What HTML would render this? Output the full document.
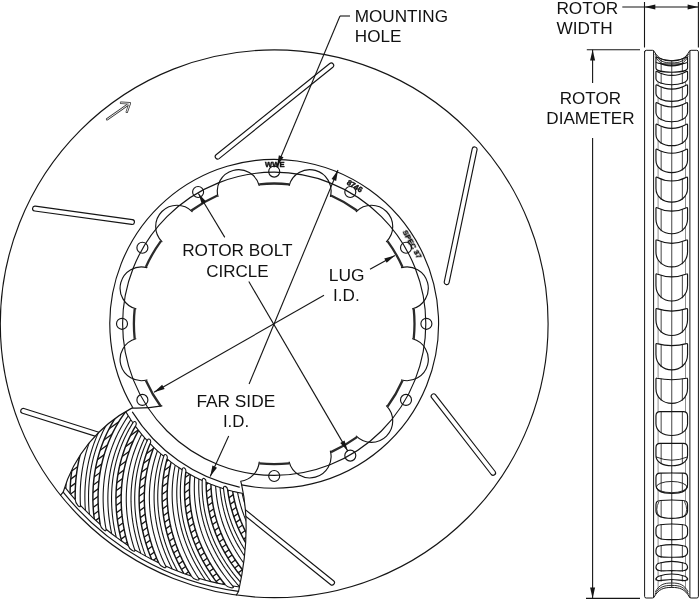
<!DOCTYPE html>
<html lang="en"><head><meta charset="utf-8"><title>Rotor Dimensions</title>
<style>html,body{margin:0;padding:0;background:#fff}svg{display:block;will-change:transform;filter:grayscale(1)}</style></head>
<body>
<svg width="700" height="599" viewBox="0 0 700 599">
<rect width="700" height="599" fill="#fff"/>
<defs>
<clipPath id="cut"><path d="M131.79,408.12 A165.5 165.5 0 0 0 241.51,484.92 Q252,531 238.53,591.43 A270 270 0 0 1 63.17,492.22 A139 139 0 0 1 131.79,408.12 Z"/></clipPath>
</defs>
<g fill="none" stroke="#151515" stroke-width="1.15" stroke-linecap="round" stroke-linejoin="round">
<circle cx="274.2" cy="323.8" r="273.9"/>
<path d="M219.13,158.61 L332.83,67.31 A2.45 2.45 0 0 0 329.77,63.49 L216.07,154.79 A2.45 2.45 0 0 0 219.13,158.61 Z" fill="#fff"/>
<path d="M34.66,211.03 L131.66,224.43 A2.45 2.45 0 0 0 132.34,219.57 L35.34,206.17 A2.45 2.45 0 0 0 34.66,211.03 Z" fill="#fff"/>
<path d="M472.2,148.9 L444.3,281.7 A2.45 2.45 0 0 0 449.1,282.7 L477,149.9 A2.45 2.45 0 0 0 472.2,148.9 Z" fill="#fff"/>
<path d="M22.46,413.24 L109.26,440.64 A2.45 2.45 0 0 0 110.74,435.96 L23.94,408.56 A2.45 2.45 0 0 0 22.46,413.24 Z" fill="#fff"/>
<path d="M431.57,397.7 L491.27,474.5 A2.45 2.45 0 0 0 495.13,471.5 L435.43,394.7 A2.45 2.45 0 0 0 431.57,397.7 Z" fill="#fff"/>
<path d="M223.46,498.41 L330.46,584.51 A2.45 2.45 0 0 0 333.54,580.69 L226.54,494.59 A2.45 2.45 0 0 0 223.46,498.41 Z" fill="#fff"/>
<path d="M161.93,405.94 Q147,408.6 131.79,408.12 A139 139 0 0 0 63.17,492.22 A270 270 0 0 0 238.53,591.43 Q252,531 241.6,484.6 L240.7,481.2 A21.3 21.3 0 0 0 259.2,462.1 Z" fill="#fff" stroke="none"/>
<g clip-path="url(#cut)">
<path d="M109.32,374.49 L106.75,376.69 L104.23,378.97 L101.74,381.33 L99.29,383.77 L96.89,386.29 L94.53,388.89 L92.21,391.58 L89.95,394.36 L87.73,397.22 L85.57,400.16 L83.47,403.2 L81.42,406.33 L79.44,409.54 L77.52,412.84 L75.67,416.24 L73.88,419.73 L72.17,423.3 L70.54,426.97 L68.99,430.74 L67.52,434.59 L66.14,438.54 L64.85,442.58 L63.65,446.71 L62.55,450.93 L61.55,455.25 L60.65,459.65 L59.86,464.15 L59.18,468.73 L58.62,473.4 L58.18,478.16 M110.75,378.94 L108.25,381.21 L105.79,383.56 L103.37,385.98 L100.99,388.49 L98.65,391.07 L96.36,393.74 L94.12,396.49 L91.93,399.33 L89.79,402.25 L87.71,405.25 L85.69,408.34 L83.73,411.52 L81.83,414.79 L80,418.14 L78.24,421.59 L76.56,425.12 L74.95,428.74 L73.42,432.46 L71.97,436.26 L70.6,440.15 L69.33,444.14 L68.15,448.21 L67.06,452.37 L66.07,456.62 L65.19,460.96 L64.41,465.39 L63.74,469.91 L63.19,474.51 L62.76,479.19 L62.45,483.96 M111.95,382.39 L109.5,384.71 L107.09,387.11 L104.72,389.59 L102.39,392.14 L100.11,394.78 L97.88,397.49 L95.7,400.29 L93.57,403.17 L91.49,406.13 L89.48,409.18 L87.52,412.31 L85.63,415.53 L83.8,418.84 L82.04,422.23 L80.36,425.71 L78.75,429.28 L77.21,432.94 L75.76,436.68 L74.39,440.52 L73.11,444.44 L71.92,448.45 L70.82,452.54 L69.83,456.73 L68.93,461 L68.14,465.36 L67.45,469.8 L66.88,474.33 L66.43,478.94 L66.1,483.63 L65.89,488.41 M117.44,395.79 L115.19,398.31 L112.99,400.91 L110.84,403.57 L108.73,406.32 L106.68,409.13 L104.68,412.03 L102.75,415 L100.86,418.05 L99.05,421.17 L97.29,424.38 L95.61,427.67 L93.99,431.03 L92.45,434.48 L90.98,438.01 L89.59,441.62 L88.29,445.31 L87.07,449.08 L85.93,452.94 L84.89,456.87 L83.94,460.89 L83.09,464.98 L82.34,469.15 L81.7,473.41 L81.17,477.74 L80.74,482.15 L80.43,486.63 L80.25,491.19 L80.18,495.83 L80.24,500.53 L80.43,505.31 M119.45,400.02 L117.27,402.6 L115.14,405.25 L113.06,407.98 L111.03,410.77 L109.06,413.64 L107.14,416.59 L105.28,419.61 L103.48,422.71 L101.75,425.89 L100.09,429.14 L98.49,432.47 L96.97,435.88 L95.52,439.37 L94.15,442.94 L92.86,446.58 L91.65,450.31 L90.53,454.11 L89.5,457.99 L88.57,461.96 L87.73,465.99 L86.99,470.11 L86.36,474.3 L85.83,478.57 L85.41,482.92 L85.11,487.34 L84.92,491.83 L84.86,496.39 L84.92,501.02 L85.1,505.73 L85.43,510.49 M121.1,403.28 L118.98,405.9 L116.9,408.6 L114.88,411.37 L112.91,414.21 L111,417.12 L109.14,420.11 L107.35,423.17 L105.62,426.3 L103.95,429.51 L102.35,432.8 L100.83,436.17 L99.38,439.61 L98,443.13 L96.71,446.72 L95.5,450.39 L94.37,454.14 L93.33,457.97 L92.39,461.87 L91.53,465.85 L90.78,469.91 L90.13,474.04 L89.58,478.25 L89.15,482.53 L88.82,486.88 L88.61,491.3 L88.52,495.8 L88.55,500.36 L88.71,504.99 L89,509.69 L89.42,514.45 M128.31,415.84 L126.41,418.64 L124.57,421.5 L122.79,424.43 L121.06,427.42 L119.4,430.48 L117.8,433.62 L116.27,436.82 L114.81,440.09 L113.42,443.43 L112.11,446.84 L110.87,450.32 L109.71,453.87 L108.64,457.49 L107.65,461.18 L106.75,464.94 L105.94,468.77 L105.23,472.67 L104.61,476.64 L104.1,480.68 L103.69,484.78 L103.39,488.96 L103.2,493.19 L103.12,497.49 L103.16,501.86 L103.32,506.28 L103.61,510.77 L104.02,515.31 L104.57,519.92 L105.25,524.57 L106.07,529.28 M130.86,419.77 L129.04,422.61 L127.28,425.52 L125.57,428.5 L123.93,431.54 L122.35,434.64 L120.84,437.82 L119.4,441.06 L118.02,444.37 L116.72,447.74 L115.5,451.19 L114.36,454.7 L113.3,458.28 L112.32,461.93 L111.43,465.65 L110.64,469.43 L109.93,473.28 L109.33,477.2 L108.82,481.18 L108.41,485.23 L108.12,489.35 L107.93,493.53 L107.85,497.77 L107.89,502.07 L108.05,506.43 L108.33,510.85 L108.74,515.33 L109.28,519.86 L109.95,524.44 L110.75,529.08 L111.7,533.76 M132.92,422.78 L131.16,425.66 L129.46,428.61 L127.82,431.62 L126.24,434.69 L124.73,437.83 L123.29,441.04 L121.91,444.31 L120.61,447.64 L119.38,451.05 L118.23,454.52 L117.17,458.05 L116.18,461.66 L115.28,465.32 L114.47,469.06 L113.76,472.86 L113.13,476.73 L112.61,480.66 L112.19,484.65 L111.87,488.71 L111.66,492.83 L111.56,497.01 L111.57,501.25 L111.7,505.55 L111.95,509.91 L112.33,514.32 L112.83,518.79 L113.46,523.31 L114.23,527.88 L115.14,532.49 L116.18,537.16 M141.73,434.28 L140.21,437.3 L138.77,440.38 L137.38,443.52 L136.07,446.72 L134.83,449.97 L133.66,453.29 L132.56,456.66 L131.54,460.1 L130.61,463.59 L129.75,467.14 L128.99,470.76 L128.31,474.43 L127.72,478.16 L127.23,481.95 L126.83,485.8 L126.53,489.7 L126.34,493.66 L126.26,497.68 L126.28,501.75 L126.41,505.87 L126.66,510.04 L127.03,514.27 L127.53,518.54 L128.14,522.86 L128.89,527.23 L129.76,531.64 L130.77,536.09 L131.92,540.58 L133.21,545.1 L134.64,549.66 M144.77,437.84 L143.34,440.9 L141.98,444.01 L140.68,447.19 L139.45,450.42 L138.3,453.7 L137.22,457.05 L136.22,460.45 L135.29,463.91 L134.45,467.43 L133.69,471.01 L133.02,474.64 L132.44,478.33 L131.96,482.08 L131.57,485.88 L131.28,489.73 L131.09,493.64 L131,497.61 L131.02,501.63 L131.16,505.69 L131.41,509.81 L131.77,513.98 L132.25,518.19 L132.86,522.45 L133.59,526.75 L134.46,531.1 L135.45,535.48 L136.58,539.9 L137.85,544.36 L139.26,548.85 L140.82,553.36 M147.21,440.55 L145.85,443.64 L144.55,446.78 L143.32,449.98 L142.17,453.24 L141.08,456.55 L140.07,459.92 L139.14,463.34 L138.29,466.82 L137.52,470.36 L136.84,473.95 L136.25,477.59 L135.75,481.3 L135.34,485.05 L135.03,488.86 L134.82,492.72 L134.71,496.64 L134.71,500.6 L134.82,504.62 L135.04,508.68 L135.37,512.79 L135.83,516.95 L136.4,521.15 L137.1,525.4 L137.92,529.68 L138.87,534.01 L139.96,538.37 L141.19,542.76 L142.55,547.19 L144.06,551.65 L145.71,556.14 M157.46,450.79 L156.36,453.99 L155.33,457.23 L154.37,460.52 L153.49,463.86 L152.69,467.25 L151.97,470.69 L151.32,474.18 L150.77,477.72 L150.3,481.31 L149.92,484.94 L149.64,488.63 L149.45,492.36 L149.36,496.13 L149.37,499.96 L149.49,503.82 L149.71,507.73 L150.04,511.68 L150.48,515.67 L151.04,519.7 L151.72,523.77 L152.52,527.88 L153.44,532.02 L154.5,536.19 L155.68,540.39 L156.99,544.62 L158.44,548.88 L160.03,553.15 L161.76,557.45 L163.63,561.77 L165.66,566.1 M160.94,453.91 L159.93,457.13 L158.99,460.4 L158.12,463.72 L157.33,467.08 L156.62,470.5 L155.99,473.95 L155.45,477.46 L154.99,481.01 L154.62,484.61 L154.34,488.26 L154.15,491.94 L154.07,495.68 L154.08,499.46 L154.19,503.28 L154.41,507.14 L154.74,511.04 L155.18,514.98 L155.73,518.96 L156.4,522.97 L157.19,527.02 L158.1,531.1 L159.14,535.22 L160.3,539.36 L161.59,543.53 L163.02,547.72 L164.59,551.93 L166.29,556.17 L168.14,560.42 L170.13,564.68 L172.27,568.95 M163.72,456.28 L162.78,459.52 L161.91,462.81 L161.11,466.15 L160.39,469.53 L159.75,472.95 L159.2,476.42 L158.73,479.94 L158.34,483.5 L158.05,487.11 L157.85,490.76 L157.74,494.45 L157.73,498.18 L157.82,501.96 L158.02,505.78 L158.32,509.63 L158.73,513.52 L159.25,517.46 L159.89,521.42 L160.64,525.42 L161.52,529.45 L162.51,533.51 L163.64,537.6 L164.89,541.72 L166.27,545.86 L167.79,550.02 L169.44,554.2 L171.23,558.4 L173.17,562.61 L175.25,566.83 L177.48,571.05 M175.23,465.08 L174.56,468.39 L173.97,471.74 L173.45,475.13 L173.02,478.56 L172.67,482.03 L172.41,485.53 L172.24,489.08 L172.15,492.66 L172.16,496.28 L172.27,499.93 L172.47,503.62 L172.78,507.34 L173.18,511.1 L173.7,514.88 L174.32,518.7 L175.06,522.54 L175.91,526.42 L176.88,530.32 L177.96,534.24 L179.17,538.18 L180.5,542.15 L181.97,546.13 L183.56,550.12 L185.28,554.13 L187.14,558.15 L189.14,562.18 L191.28,566.21 L193.56,570.24 L195.99,574.27 L198.57,578.3 M179.1,467.71 L178.52,471.04 L178.02,474.41 L177.6,477.81 L177.26,481.25 L177,484.72 L176.83,488.24 L176.75,491.78 L176.77,495.36 L176.88,498.98 L177.08,502.63 L177.38,506.31 L177.79,510.02 L178.3,513.77 L178.92,517.54 L179.64,521.34 L180.48,525.16 L181.44,529.01 L182.51,532.88 L183.7,536.77 L185.02,540.68 L186.46,544.61 L188.03,548.55 L189.73,552.5 L191.56,556.46 L193.53,560.43 L195.64,564.4 L197.88,568.37 L200.27,572.34 L202.81,576.3 L205.49,580.26 M182.16,469.7 L181.66,473.03 L181.23,476.41 L180.88,479.82 L180.61,483.26 L180.43,486.74 L180.34,490.26 L180.33,493.81 L180.42,497.39 L180.61,501 L180.89,504.64 L181.27,508.32 L181.75,512.02 L182.34,515.75 L183.04,519.51 L183.85,523.29 L184.77,527.1 L185.8,530.93 L186.96,534.77 L188.23,538.64 L189.63,542.52 L191.15,546.41 L192.81,550.32 L194.59,554.24 L196.5,558.16 L198.56,562.08 L200.75,566.01 L203.08,569.93 L205.55,573.85 L208.17,577.76 L210.94,581.65 M194.73,476.9 L194.5,480.27 L194.36,483.67 L194.3,487.1 L194.32,490.56 L194.43,494.04 L194.63,497.55 L194.93,501.08 L195.32,504.64 L195.8,508.23 L196.39,511.84 L197.08,515.47 L197.87,519.12 L198.77,522.78 L199.78,526.47 L200.9,530.17 L202.14,533.89 L203.49,537.61 L204.97,541.35 L206.56,545.09 L208.28,548.84 L210.13,552.6 L212.1,556.35 L214.2,560.1 L216.44,563.85 L218.82,567.59 L221.33,571.32 L223.98,575.03 L226.77,578.73 L229.71,582.4 L232.8,586.05 M198.91,479 L198.78,482.38 L198.72,485.78 L198.76,489.21 L198.87,492.66 L199.08,496.14 L199.38,499.64 L199.76,503.17 L200.25,506.72 L200.83,510.29 L201.52,513.88 L202.3,517.49 L203.2,521.11 L204.2,524.76 L205.31,528.41 L206.53,532.08 L207.86,535.76 L209.32,539.45 L210.89,543.15 L212.59,546.85 L214.41,550.55 L216.35,554.25 L218.43,557.95 L220.63,561.64 L222.97,565.33 L225.45,569 L228.06,572.66 L230.81,576.3 L233.71,579.92 L236.74,583.51 L239.92,587.08 M202.21,480.56 L202.15,483.94 L202.17,487.34 L202.27,490.77 L202.46,494.22 L202.74,497.69 L203.11,501.19 L203.58,504.7 L204.14,508.24 L204.8,511.8 L205.56,515.37 L206.42,518.97 L207.39,522.57 L208.47,526.19 L209.65,529.83 L210.95,533.47 L212.37,537.12 L213.9,540.78 L215.55,544.44 L217.32,548.1 L219.22,551.76 L221.24,555.42 L223.4,559.08 L225.68,562.72 L228.1,566.36 L230.65,569.98 L233.34,573.58 L236.17,577.16 L239.14,580.72 L242.25,584.25 L245.5,587.74 M215.62,486.05 L215.84,489.42 L216.15,492.81 L216.54,496.21 L217.02,499.64 L217.59,503.07 L218.25,506.53 L219.01,509.99 L219.86,513.47 L220.82,516.96 L221.87,520.46 L223.04,523.96 L224.3,527.48 L225.68,530.99 L227.17,534.51 L228.77,538.04 L230.48,541.56 L232.32,545.07 L234.27,548.58 L236.34,552.08 L238.54,555.57 L240.87,559.05 L243.32,562.51 L245.9,565.95 L248.61,569.37 L251.46,572.76 L254.44,576.13 L257.56,579.46 L260.82,582.75 L264.21,586.01 L267.75,589.22 M220.04,487.58 L220.35,490.94 L220.75,494.32 L221.23,497.71 L221.81,501.12 L222.47,504.54 L223.22,507.98 L224.08,511.42 L225.03,514.87 L226.07,518.34 L227.23,521.8 L228.48,525.28 L229.84,528.76 L231.32,532.23 L232.9,535.71 L234.59,539.19 L236.4,542.66 L238.33,546.13 L240.38,549.58 L242.55,553.03 L244.84,556.45 L247.26,559.87 L249.8,563.26 L252.48,566.63 L255.28,569.97 L258.22,573.29 L261.29,576.57 L264.5,579.82 L267.84,583.02 L271.33,586.18 L274.95,589.3 M223.52,488.69 L223.9,492.04 L224.37,495.41 L224.93,498.8 L225.57,502.19 L226.31,505.6 L227.13,509.01 L228.06,512.44 L229.08,515.87 L230.2,519.31 L231.43,522.75 L232.76,526.2 L234.19,529.65 L235.74,533.1 L237.39,536.54 L239.16,539.98 L241.05,543.41 L243.05,546.83 L245.17,550.25 L247.41,553.64 L249.77,557.02 L252.26,560.38 L254.88,563.72 L257.62,567.04 L260.5,570.32 L263.5,573.57 L266.64,576.79 L269.92,579.96 L273.33,583.1 L276.88,586.19 L280.57,589.22 M237.53,492.36 L238.2,495.67 L238.95,498.99 L239.78,502.31 L240.71,505.64 L241.73,508.97 L242.84,512.31 L244.05,515.65 L245.36,518.98 L246.76,522.31 L248.27,525.64 L249.89,528.96 L251.61,532.28 L253.44,535.58 L255.37,538.88 L257.42,542.16 L259.59,545.42 L261.87,548.66 L264.27,551.88 L266.79,555.08 L269.43,558.25 L272.19,561.39 L275.08,564.5 L278.09,567.57 L281.23,570.6 L284.5,573.59 L287.9,576.53 L291.43,579.42 L295.09,582.26 L298.89,585.04 L302.82,587.75 M242.12,493.29 L242.87,496.58 L243.71,499.88 L244.64,503.18 L245.65,506.48 L246.76,509.79 L247.96,513.09 L249.26,516.39 L250.66,519.69 L252.16,522.98 L253.76,526.27 L255.46,529.55 L257.27,532.82 L259.19,536.07 L261.21,539.31 L263.35,542.53 L265.6,545.73 L267.97,548.91 L270.46,552.07 L273.06,555.2 L275.79,558.29 L278.63,561.36 L281.6,564.39 L284.7,567.37 L287.92,570.32 L291.27,573.22 L294.75,576.06 L298.35,578.86 L302.09,581.6 L305.96,584.27 L309.97,586.88 M245.71,493.93 L246.54,497.21 L247.44,500.49 L248.44,503.77 L249.53,507.05 L250.7,510.33 L251.98,513.6 L253.34,516.88 L254.81,520.15 L256.38,523.41 L258.05,526.66 L259.82,529.9 L261.7,533.13 L263.68,536.34 L265.78,539.54 L267.98,542.71 L270.3,545.87 L272.74,549 L275.29,552.1 L277.96,555.17 L280.75,558.21 L283.66,561.21 L286.69,564.18 L289.85,567.1 L293.13,569.97 L296.54,572.8 L300.08,575.57 L303.75,578.29 L307.54,580.95 L311.47,583.54 L315.53,586.06 M260.09,495.72 L261.18,498.92 L262.36,502.11 L263.63,505.29 L264.99,508.47 L266.44,511.64 L267.98,514.8 L269.62,517.95 L271.35,521.08 L273.19,524.2 L275.12,527.3 L277.16,530.38 L279.3,533.44 L281.55,536.47 L283.91,539.48 L286.37,542.46 L288.95,545.41 L291.64,548.32 L294.44,551.2 L297.36,554.04 L300.4,556.83 L303.55,559.58 L306.82,562.28 L310.21,564.93 L313.72,567.52 L317.36,570.05 L321.12,572.51 L325,574.91 L329,577.24 L333.13,579.5 L337.39,581.67 M264.76,496.04 L265.94,499.21 L267.2,502.36 L268.56,505.51 L270,508.65 L271.54,511.78 L273.16,514.9 L274.89,518 L276.71,521.08 L278.62,524.15 L280.64,527.2 L282.76,530.22 L284.99,533.22 L287.32,536.2 L289.75,539.14 L292.3,542.05 L294.96,544.93 L297.72,547.77 L300.6,550.57 L303.6,553.33 L306.7,556.04 L309.93,558.7 L313.27,561.31 L316.74,563.86 L320.32,566.35 L324.02,568.79 L327.84,571.15 L331.79,573.44 L335.86,575.66 L340.05,577.8 L344.36,579.86 M268.4,496.2 L269.65,499.34 L270.98,502.47 L272.4,505.59 L273.91,508.7 L275.51,511.8 L277.21,514.88 L279,517.94 L280.88,520.99 L282.86,524.01 L284.95,527.02 L287.13,529.99 L289.42,532.95 L291.81,535.87 L294.31,538.76 L296.92,541.62 L299.63,544.44 L302.46,547.22 L305.4,549.96 L308.45,552.65 L311.61,555.3 L314.89,557.89 L318.29,560.43 L321.81,562.91 L325.44,565.32 L329.19,567.68 L333.07,569.96 L337.06,572.17 L341.17,574.3 L345.41,576.35 L349.76,578.32 M282.89,496.08 L284.4,499.1 L285.99,502.11 L287.67,505.1 L289.43,508.07 L291.28,511.02 L293.23,513.95 L295.27,516.85 L297.4,519.73 L299.63,522.58 L301.96,525.4 L304.39,528.18 L306.91,530.93 L309.54,533.64 L312.27,536.32 L315.11,538.94 L318.05,541.53 L321.1,544.06 L324.26,546.54 L327.53,548.97 L330.91,551.34 L334.39,553.65 L337.99,555.89 L341.7,558.07 L345.53,560.17 L349.46,562.2 L353.51,564.15 L357.68,566.02 L361.96,567.8 L366.35,569.49 L370.85,571.08 M287.56,495.78 L289.15,498.76 L290.82,501.73 L292.58,504.67 L294.42,507.59 L296.36,510.49 L298.38,513.36 L300.5,516.21 L302.71,519.03 L305.01,521.82 L307.42,524.57 L309.92,527.29 L312.52,529.97 L315.22,532.61 L318.02,535.21 L320.93,537.76 L323.94,540.26 L327.06,542.71 L330.28,545.1 L333.62,547.44 L337.06,549.72 L340.6,551.93 L344.26,554.08 L348.03,556.15 L351.91,558.15 L355.9,560.07 L360,561.91 L364.22,563.67 L368.54,565.33 L372.98,566.9 L377.52,568.37 M291.2,495.46 L292.85,498.41 L294.58,501.33 L296.4,504.24 L298.31,507.12 L300.3,509.98 L302.39,512.81 L304.56,515.61 L306.83,518.38 L309.2,521.12 L311.66,523.82 L314.22,526.49 L316.87,529.11 L319.63,531.69 L322.49,534.23 L325.45,536.72 L328.51,539.16 L331.68,541.54 L334.96,543.87 L338.34,546.13 L341.82,548.34 L345.42,550.48 L349.12,552.54 L352.93,554.54 L356.85,556.45 L360.88,558.29 L365.02,560.04 L369.27,561.71 L373.63,563.28 L378.1,564.75 L382.68,566.13 M305.54,493.43 L307.43,496.23 L309.41,499 L311.46,501.74 L313.6,504.45 L315.83,507.13 L318.15,509.78 L320.55,512.39 L323.05,514.96 L325.63,517.49 L328.31,519.97 L331.08,522.41 L333.95,524.81 L336.91,527.15 L339.98,529.44 L343.13,531.67 L346.39,533.84 L349.75,535.95 L353.21,537.99 L356.77,539.97 L360.43,541.87 L364.19,543.7 L368.05,545.45 L372.02,547.12 L376.08,548.7 L380.25,550.19 L384.53,551.59 L388.9,552.89 L393.37,554.09 L397.95,555.19 L402.63,556.17 M310.13,492.52 L312.1,495.26 L314.14,497.98 L316.27,500.66 L318.49,503.32 L320.79,505.94 L323.17,508.52 L325.65,511.06 L328.21,513.56 L330.86,516.02 L333.61,518.43 L336.45,520.8 L339.38,523.11 L342.41,525.37 L345.53,527.58 L348.75,529.72 L352.06,531.8 L355.47,533.82 L358.99,535.77 L362.6,537.65 L366.31,539.45 L370.12,541.18 L374.03,542.82 L378.04,544.38 L382.14,545.85 L386.35,547.23 L390.66,548.51 L395.07,549.7 L399.58,550.77 L404.18,551.75 L408.88,552.6 M313.69,491.72 L315.72,494.42 L317.82,497.09 L320.01,499.73 L322.28,502.34 L324.63,504.91 L327.07,507.44 L329.6,509.93 L332.22,512.38 L334.92,514.78 L337.72,517.13 L340.6,519.44 L343.58,521.69 L346.66,523.88 L349.82,526.02 L353.09,528.1 L356.45,530.11 L359.9,532.06 L363.45,533.93 L367.1,535.73 L370.85,537.46 L374.7,539.1 L378.64,540.66 L382.68,542.14 L386.82,543.52 L391.06,544.81 L395.39,546 L399.82,547.09 L404.35,548.07 L408.98,548.94 L413.69,549.7 M327.64,487.81 L329.89,490.34 L332.21,492.82 L334.61,495.27 L337.09,497.68 L339.65,500.04 L342.3,502.36 L345.02,504.63 L347.83,506.84 L350.73,509.01 L353.71,511.12 L356.79,513.18 L359.94,515.17 L363.19,517.1 L366.53,518.96 L369.95,520.76 L373.47,522.48 L377.07,524.13 L380.77,525.7 L384.56,527.19 L388.44,528.59 L392.41,529.91 L396.47,531.13 L400.62,532.26 L404.86,533.29 L409.19,534.22 L413.61,535.05 L418.12,535.76 L422.71,536.36 L427.39,536.84 L432.16,537.2 M332.07,486.3 L334.38,488.76 L336.77,491.19 L339.24,493.57 L341.78,495.91 L344.41,498.2 L347.11,500.44 L349.9,502.64 L352.77,504.78 L355.73,506.87 L358.77,508.9 L361.89,510.87 L365.1,512.77 L368.4,514.61 L371.78,516.39 L375.26,518.09 L378.82,519.72 L382.47,521.27 L386.21,522.74 L390.03,524.12 L393.95,525.42 L397.95,526.63 L402.05,527.74 L406.23,528.76 L410.49,529.67 L414.85,530.48 L419.29,531.19 L423.81,531.78 L428.42,532.25 L433.11,532.61 L437.89,532.84 M335.5,485.04 L337.86,487.45 L340.3,489.83 L342.82,492.15 L345.41,494.44 L348.08,496.67 L350.83,498.86 L353.67,501 L356.58,503.08 L359.58,505.1 L362.66,507.07 L365.83,508.97 L369.08,510.81 L372.42,512.58 L375.84,514.28 L379.35,515.91 L382.94,517.46 L386.62,518.93 L390.39,520.32 L394.25,521.62 L398.19,522.84 L402.22,523.96 L406.33,524.99 L410.53,525.92 L414.82,526.74 L419.19,527.46 L423.64,528.07 L428.18,528.56 L432.8,528.94 L437.5,529.2 L442.27,529.33 M348.81,479.33 L351.37,481.54 L354,483.69 L356.7,485.8 L359.48,487.86 L362.33,489.86 L365.25,491.81 L368.26,493.7 L371.34,495.53 L374.49,497.3 L377.73,499 L381.04,500.63 L384.44,502.19 L387.91,503.67 L391.46,505.08 L395.1,506.41 L398.81,507.65 L402.6,508.81 L406.47,509.88 L410.42,510.85 L414.45,511.73 L418.56,512.51 L422.75,513.19 L427.01,513.77 L431.35,514.23 L435.77,514.58 L440.26,514.81 L444.82,514.92 L449.45,514.91 L454.16,514.77 L458.93,514.5 M353,477.25 L355.62,479.38 L358.3,481.47 L361.06,483.51 L363.89,485.49 L366.8,487.41 L369.78,489.28 L372.83,491.09 L375.96,492.83 L379.16,494.51 L382.44,496.12 L385.8,497.66 L389.23,499.13 L392.75,500.52 L396.34,501.83 L400,503.06 L403.75,504.2 L407.57,505.26 L411.47,506.22 L415.45,507.09 L419.5,507.86 L423.63,508.53 L427.83,509.1 L432.11,509.55 L436.46,509.9 L440.88,510.13 L445.38,510.24 L449.94,510.23 L454.57,510.09 L459.27,509.82 L464.03,509.42 M356.23,475.55 L358.89,477.63 L361.62,479.66 L364.42,481.63 L367.3,483.55 L370.24,485.42 L373.26,487.22 L376.35,488.96 L379.51,490.64 L382.75,492.25 L386.07,493.8 L389.45,495.26 L392.92,496.66 L396.46,497.97 L400.08,499.21 L403.77,500.36 L407.54,501.42 L411.38,502.4 L415.3,503.28 L419.29,504.06 L423.36,504.74 L427.5,505.33 L431.72,505.8 L436,506.17 L440.36,506.42 L444.79,506.56 L449.28,506.57 L453.85,506.46 L458.47,506.23 L463.16,505.86 L467.92,505.36 M368.67,468.13 L371.5,469.98 L374.39,471.77 L377.35,473.5 L380.37,475.18 L383.46,476.79 L386.62,478.33 L389.85,479.81 L393.14,481.22 L396.5,482.55 L399.94,483.81 L403.44,484.99 L407.01,486.09 L410.64,487.1 L414.35,488.03 L418.13,488.86 L421.97,489.61 L425.88,490.25 L429.86,490.8 L433.91,491.25 L438.02,491.59 L442.19,491.82 L446.43,491.94 L450.74,491.95 L455.1,491.83 L459.52,491.6 L464,491.24 L468.54,490.75 L473.13,490.12 L477.77,489.36 L482.47,488.47 M372.55,465.51 L375.43,467.29 L378.37,469 L381.37,470.65 L384.44,472.24 L387.57,473.77 L390.77,475.23 L394.03,476.62 L397.37,477.93 L400.76,479.18 L404.23,480.34 L407.76,481.42 L411.36,482.43 L415.02,483.34 L418.75,484.17 L422.55,484.9 L426.41,485.54 L430.34,486.08 L434.33,486.52 L438.39,486.86 L442.51,487.09 L446.69,487.21 L450.93,487.21 L455.23,487.1 L459.59,486.87 L464,486.51 L468.47,486.03 L472.99,485.41 L477.57,484.67 L482.19,483.78 L486.86,482.76 M375.53,463.4 L378.44,465.11 L381.42,466.76 L384.46,468.35 L387.56,469.88 L390.72,471.34 L393.95,472.73 L397.24,474.05 L400.6,475.29 L404.02,476.46 L407.51,477.55 L411.07,478.56 L414.68,479.49 L418.37,480.32 L422.12,481.07 L425.93,481.72 L429.8,482.28 L433.74,482.74 L437.74,483.1 L441.8,483.35 L445.93,483.49 L450.11,483.52 L454.35,483.43 L458.65,483.23 L463,482.91 L467.4,482.46 L471.86,481.88 L476.37,481.17 L480.93,480.33 L485.53,479.34 L490.17,478.22" stroke-width="1.1" stroke-linecap="butt"/>
<path d="M106.62,364.7 L103.93,366.75 L101.28,368.87 L98.66,371.08 L96.07,373.37 L93.52,375.75 L91.01,378.21 L88.54,380.76 L86.12,383.39 L83.74,386.12 L81.41,388.93 L79.13,391.84 L76.9,394.84 L74.73,397.93 L72.62,401.12 L70.57,404.4 L68.59,407.77 L66.67,411.24 L64.83,414.81 L63.05,418.48 L61.36,422.24 L59.75,426.1 L58.22,430.05 L56.78,434.11 L55.43,438.26 L54.18,442.51 L53.03,446.85 L51.97,451.29 L51.03,455.83 L50.19,460.46 L49.48,465.18 M107.91,369.67 L105.29,371.79 L102.7,374 L100.14,376.29 L97.62,378.65 L95.15,381.1 L92.71,383.64 L90.32,386.26 L87.97,388.97 L85.68,391.76 L83.43,394.64 L81.24,397.62 L79.1,400.68 L77.02,403.83 L75.01,407.08 L73.06,410.42 L71.18,413.85 L69.36,417.38 L67.63,421 L65.97,424.72 L64.39,428.53 L62.89,432.43 L61.48,436.43 L60.16,440.53 L58.94,444.72 L57.81,449 L56.79,453.38 L55.87,457.85 L55.06,462.41 L54.36,467.06 L53.78,471.81 M113.48,386.45 L111.09,388.83 L108.73,391.29 L106.43,393.82 L104.17,396.44 L101.95,399.13 L99.79,401.9 L97.68,404.75 L95.62,407.68 L93.62,410.7 L91.68,413.8 L89.81,416.98 L87.99,420.24 L86.25,423.6 L84.58,427.03 L82.98,430.55 L81.46,434.16 L80.02,437.86 L78.66,441.64 L77.39,445.5 L76.21,449.45 L75.12,453.49 L74.12,457.61 L73.23,461.82 L72.44,466.12 L71.76,470.49 L71.19,474.95 L70.73,479.49 L70.39,484.11 L70.18,488.81 L70.09,493.59 M115.41,391.2 L113.09,393.66 L110.82,396.18 L108.59,398.79 L106.4,401.47 L104.27,404.22 L102.19,407.06 L100.16,409.97 L98.2,412.96 L96.29,416.03 L94.44,419.19 L92.66,422.43 L90.95,425.74 L89.3,429.15 L87.74,432.63 L86.24,436.2 L84.83,439.85 L83.5,443.58 L82.25,447.4 L81.1,451.31 L80.03,455.29 L79.07,459.36 L78.2,463.51 L77.43,467.74 L76.77,472.06 L76.22,476.45 L75.78,480.93 L75.46,485.48 L75.26,490.11 L75.18,494.81 L75.23,499.59 M123.15,407.1 L121.09,409.78 L119.08,412.53 L117.13,415.34 L115.23,418.23 L113.39,421.19 L111.61,424.22 L109.9,427.33 L108.25,430.51 L106.66,433.76 L105.15,437.09 L103.71,440.49 L102.34,443.96 L101.06,447.52 L99.85,451.14 L98.73,454.84 L97.7,458.62 L96.76,462.47 L95.91,466.4 L95.16,470.4 L94.51,474.47 L93.96,478.62 L93.52,482.84 L93.19,487.13 L92.98,491.49 L92.88,495.91 L92.9,500.41 L93.05,504.97 L93.32,509.6 L93.73,514.28 L94.27,519.03 M125.69,411.56 L123.72,414.3 L121.79,417.1 L119.92,419.98 L118.11,422.92 L116.36,425.93 L114.67,429.02 L113.05,432.17 L111.49,435.4 L110.01,438.7 L108.59,442.07 L107.26,445.51 L106,449.03 L104.82,452.61 L103.72,456.28 L102.71,460.01 L101.79,463.81 L100.97,467.69 L100.24,471.64 L99.6,475.66 L99.08,479.75 L98.65,483.91 L98.34,488.14 L98.14,492.44 L98.05,496.81 L98.08,501.23 L98.24,505.73 L98.52,510.28 L98.93,514.9 L99.48,519.57 L100.16,524.3 M135.45,426.3 L133.77,429.22 L132.14,432.21 L130.58,435.26 L129.08,438.38 L127.65,441.55 L126.28,444.79 L124.99,448.1 L123.77,451.47 L122.63,454.9 L121.57,458.4 L120.59,461.96 L119.7,465.58 L118.89,469.27 L118.17,473.03 L117.55,476.85 L117.03,480.73 L116.6,484.67 L116.28,488.67 L116.06,492.74 L115.96,496.86 L115.96,501.04 L116.08,505.28 L116.32,509.58 L116.68,513.93 L117.17,518.33 L117.78,522.78 L118.53,527.28 L119.41,531.83 L120.43,536.42 L121.59,541.06 M138.57,430.38 L136.97,433.36 L135.43,436.39 L133.96,439.49 L132.55,442.64 L131.21,445.86 L129.95,449.14 L128.75,452.48 L127.64,455.89 L126.6,459.35 L125.64,462.88 L124.77,466.47 L123.98,470.12 L123.29,473.83 L122.69,477.61 L122.18,481.44 L121.77,485.33 L121.46,489.29 L121.26,493.3 L121.16,497.37 L121.18,501.49 L121.31,505.67 L121.55,509.91 L121.92,514.19 L122.41,518.53 L123.03,522.92 L123.77,527.35 L124.65,531.83 L125.67,536.35 L126.83,540.91 L128.13,545.51 M150.19,443.7 L148.9,446.83 L147.68,450 L146.54,453.23 L145.46,456.52 L144.46,459.86 L143.53,463.25 L142.69,466.69 L141.93,470.19 L141.25,473.75 L140.66,477.35 L140.16,481.01 L139.75,484.73 L139.44,488.49 L139.22,492.31 L139.11,496.17 L139.1,500.09 L139.2,504.05 L139.41,508.06 L139.73,512.12 L140.17,516.22 L140.72,520.37 L141.4,524.55 L142.21,528.78 L143.14,533.04 L144.2,537.34 L145.4,541.67 L146.73,546.04 L148.21,550.43 L149.82,554.85 L151.59,559.29 M153.81,447.34 L152.62,450.5 L151.5,453.71 L150.44,456.98 L149.47,460.29 L148.57,463.66 L147.74,467.07 L147,470.54 L146.34,474.07 L145.77,477.64 L145.29,481.26 L144.9,484.93 L144.6,488.66 L144.4,492.43 L144.3,496.25 L144.3,500.12 L144.41,504.03 L144.63,507.99 L144.95,511.99 L145.4,516.04 L145.95,520.12 L146.63,524.25 L147.44,528.42 L148.37,532.62 L149.42,536.85 L150.61,541.12 L151.94,545.41 L153.4,549.73 L155.01,554.08 L156.75,558.45 L158.65,562.84 M167.09,459.01 L166.23,462.28 L165.44,465.59 L164.73,468.94 L164.09,472.34 L163.54,475.78 L163.07,479.27 L162.69,482.79 L162.39,486.36 L162.19,489.97 L162.08,493.63 L162.07,497.32 L162.15,501.05 L162.34,504.83 L162.63,508.64 L163.03,512.48 L163.54,516.37 L164.16,520.28 L164.89,524.23 L165.75,528.21 L166.72,532.22 L167.82,536.25 L169.04,540.32 L170.4,544.4 L171.88,548.5 L173.5,552.62 L175.26,556.76 L177.16,560.91 L179.2,565.07 L181.39,569.24 L183.72,573.41 M171.16,462.14 L170.39,465.43 L169.71,468.76 L169.09,472.14 L168.56,475.55 L168.11,479.01 L167.75,482.5 L167.47,486.04 L167.28,489.62 L167.18,493.23 L167.18,496.89 L167.28,500.58 L167.48,504.31 L167.78,508.08 L168.18,511.88 L168.69,515.71 L169.32,519.58 L170.05,523.47 L170.91,527.4 L171.88,531.35 L172.97,535.33 L174.19,539.33 L175.54,543.35 L177.01,547.39 L178.62,551.45 L180.36,555.52 L182.24,559.6 L184.26,563.69 L186.42,567.79 L188.73,571.89 L191.19,575.99 M185.86,471.96 L185.44,475.31 L185.09,478.7 L184.83,482.12 L184.65,485.57 L184.55,489.05 L184.55,492.57 L184.63,496.11 L184.81,499.69 L185.09,503.3 L185.46,506.93 L185.94,510.6 L186.51,514.29 L187.2,518 L187.99,521.74 L188.89,525.5 L189.91,529.28 L191.04,533.08 L192.29,536.9 L193.66,540.73 L195.15,544.58 L196.77,548.43 L198.52,552.29 L200.4,556.16 L202.42,560.04 L204.57,563.91 L206.86,567.78 L209.29,571.64 L211.86,575.49 L214.57,579.34 L217.44,583.16 M190.31,474.53 L189.98,477.89 L189.74,481.28 L189.58,484.71 L189.5,488.16 L189.51,491.65 L189.61,495.16 L189.8,498.7 L190.09,502.27 L190.47,505.87 L190.95,509.49 L191.53,513.14 L192.22,516.81 L193.01,520.5 L193.92,524.22 L194.93,527.95 L196.06,531.7 L197.3,535.46 L198.67,539.24 L200.15,543.03 L201.76,546.83 L203.49,550.64 L205.36,554.45 L207.35,558.26 L209.48,562.07 L211.75,565.87 L214.15,569.67 L216.69,573.46 L219.38,577.24 L222.21,581 L225.18,584.74 M206.18,482.32 L206.2,485.7 L206.3,489.1 L206.49,492.52 L206.77,495.97 L207.14,499.43 L207.59,502.92 L208.15,506.42 L208.8,509.94 L209.54,513.48 L210.39,517.04 L211.35,520.61 L212.41,524.19 L213.57,527.78 L214.85,531.38 L216.24,534.99 L217.75,538.61 L219.37,542.22 L221.11,545.84 L222.98,549.46 L224.97,553.07 L227.08,556.68 L229.33,560.28 L231.7,563.87 L234.21,567.44 L236.85,570.99 L239.63,574.53 L242.55,578.04 L245.6,581.52 L248.8,584.97 L252.15,588.38 M210.92,484.28 L211.05,487.65 L211.25,491.05 L211.54,494.46 L211.92,497.9 L212.39,501.35 L212.95,504.82 L213.61,508.31 L214.37,511.81 L215.22,515.32 L216.17,518.85 L217.23,522.39 L218.4,525.94 L219.67,529.49 L221.06,533.06 L222.55,536.62 L224.17,540.19 L225.9,543.76 L227.75,547.32 L229.72,550.88 L231.81,554.44 L234.03,557.98 L236.38,561.51 L238.86,565.03 L241.48,568.52 L244.22,572 L247.11,575.45 L250.13,578.87 L253.29,582.26 L256.59,585.61 L260.03,588.92 M227.68,489.91 L228.15,493.25 L228.7,496.61 L229.34,499.98 L230.07,503.36 L230.89,506.74 L231.8,510.14 L232.81,513.54 L233.92,516.95 L235.13,520.35 L236.44,523.77 L237.86,527.18 L239.38,530.59 L241.01,534 L242.75,537.4 L244.61,540.79 L246.58,544.18 L248.66,547.55 L250.87,550.9 L253.19,554.24 L255.64,557.56 L258.21,560.86 L260.91,564.13 L263.74,567.38 L266.7,570.59 L269.78,573.76 L273,576.9 L276.36,579.99 L279.85,583.04 L283.48,586.04 L287.24,588.98 M232.64,491.22 L233.21,494.55 L233.86,497.89 L234.6,501.24 L235.43,504.59 L236.35,507.95 L237.37,511.32 L238.48,514.69 L239.69,518.06 L241,521.43 L242.41,524.8 L243.93,528.17 L245.55,531.53 L247.28,534.89 L249.12,538.24 L251.08,541.58 L253.15,544.9 L255.33,548.21 L257.64,551.5 L260.06,554.77 L262.61,558.01 L265.28,561.23 L268.07,564.42 L270.99,567.58 L274.04,570.7 L277.23,573.78 L280.54,576.82 L283.98,579.81 L287.56,582.76 L291.28,585.64 L295.13,588.47 M250,494.59 L250.9,497.85 L251.89,501.1 L252.97,504.36 L254.14,507.61 L255.4,510.86 L256.75,514.1 L258.2,517.34 L259.75,520.57 L261.4,523.79 L263.15,527 L265,530.2 L266.96,533.38 L269.03,536.54 L271.2,539.68 L273.49,542.8 L275.89,545.89 L278.4,548.96 L281.03,552 L283.77,555 L286.64,557.97 L289.62,560.9 L292.73,563.79 L295.96,566.63 L299.32,569.42 L302.8,572.16 L306.4,574.84 L310.13,577.47 L314,580.03 L317.99,582.52 L322.11,584.94 M255.09,495.24 L256.09,498.46 L257.18,501.69 L258.35,504.91 L259.62,508.12 L260.98,511.33 L262.43,514.54 L263.97,517.73 L265.61,520.91 L267.36,524.08 L269.2,527.24 L271.15,530.38 L273.2,533.5 L275.36,536.6 L277.63,539.67 L280.01,542.72 L282.5,545.75 L285.1,548.74 L287.82,551.69 L290.65,554.61 L293.6,557.5 L296.67,560.33 L299.87,563.13 L303.18,565.87 L306.61,568.56 L310.17,571.2 L313.86,573.77 L317.67,576.29 L321.6,578.73 L325.67,581.1 L329.86,583.4 M272.74,496.29 L274.07,499.4 L275.48,502.5 L276.97,505.58 L278.56,508.65 L280.24,511.7 L282.01,514.74 L283.87,517.76 L285.83,520.76 L287.89,523.73 L290.05,526.68 L292.31,529.6 L294.67,532.5 L297.13,535.36 L299.71,538.19 L302.38,540.98 L305.17,543.73 L308.06,546.44 L311.07,549.1 L314.19,551.72 L317.42,554.28 L320.77,556.79 L324.23,559.24 L327.8,561.63 L331.5,563.96 L335.31,566.22 L339.23,568.4 L343.28,570.51 L347.45,572.54 L351.73,574.48 L356.14,576.34 M277.87,496.26 L279.29,499.33 L280.79,502.38 L282.38,505.42 L284.06,508.44 L285.83,511.44 L287.69,514.42 L289.64,517.39 L291.69,520.32 L293.84,523.24 L296.08,526.12 L298.43,528.97 L300.87,531.8 L303.42,534.58 L306.07,537.33 L308.83,540.04 L311.7,542.71 L314.67,545.33 L317.76,547.91 L320.95,550.43 L324.26,552.89 L327.68,555.3 L331.21,557.65 L334.86,559.93 L338.62,562.15 L342.49,564.29 L346.49,566.36 L350.59,568.35 L354.82,570.25 L359.16,572.07 L363.62,573.79 M295.51,494.98 L297.23,497.88 L299.04,500.77 L300.93,503.62 L302.91,506.46 L304.97,509.26 L307.13,512.04 L309.37,514.79 L311.71,517.5 L314.15,520.18 L316.67,522.82 L319.3,525.42 L322.02,527.97 L324.84,530.49 L327.76,532.95 L330.78,535.36 L333.91,537.72 L337.14,540.03 L340.47,542.27 L343.9,544.45 L347.45,546.57 L351.09,548.61 L354.85,550.59 L358.71,552.49 L362.67,554.3 L366.75,556.04 L370.93,557.69 L375.22,559.24 L379.62,560.7 L384.12,562.07 L388.73,563.33 M300.59,494.27 L302.4,497.12 L304.29,499.95 L306.27,502.75 L308.33,505.52 L310.48,508.27 L312.72,510.98 L315.04,513.66 L317.46,516.3 L319.97,518.9 L322.58,521.47 L325.28,523.99 L328.08,526.46 L330.97,528.89 L333.96,531.26 L337.06,533.59 L340.25,535.85 L343.54,538.06 L346.94,540.2 L350.44,542.28 L354.04,544.29 L357.75,546.23 L361.56,548.09 L365.48,549.87 L369.5,551.57 L373.62,553.18 L377.85,554.7 L382.18,556.13 L386.62,557.46 L391.16,558.69 L395.81,559.81 M317.9,490.67 L319.99,493.32 L322.16,495.94 L324.42,498.53 L326.75,501.08 L329.17,503.58 L331.67,506.05 L334.26,508.48 L336.94,510.86 L339.7,513.19 L342.56,515.48 L345.5,517.71 L348.54,519.88 L351.66,522 L354.88,524.06 L358.2,526.05 L361.61,527.98 L365.11,529.84 L368.71,531.62 L372.4,533.33 L376.19,534.96 L380.08,536.51 L384.06,537.97 L388.13,539.34 L392.31,540.62 L396.58,541.8 L400.94,542.88 L405.4,543.86 L409.95,544.73 L414.59,545.48 L419.33,546.12 M322.85,489.3 L325.02,491.89 L327.27,494.44 L329.59,496.96 L332,499.43 L334.5,501.87 L337.07,504.26 L339.73,506.61 L342.48,508.91 L345.31,511.16 L348.23,513.36 L351.24,515.5 L354.34,517.58 L357.53,519.61 L360.81,521.57 L364.18,523.46 L367.64,525.29 L371.2,527.04 L374.85,528.72 L378.59,530.31 L382.43,531.83 L386.36,533.26 L390.38,534.6 L394.5,535.85 L398.71,537.01 L403.01,538.06 L407.4,539.01 L411.89,539.86 L416.46,540.59 L421.13,541.21 L425.88,541.71 M339.53,483.45 L341.95,485.8 L344.45,488.11 L347.03,490.38 L349.68,492.59 L352.4,494.76 L355.21,496.88 L358.1,498.94 L361.06,500.95 L364.11,502.9 L367.24,504.78 L370.45,506.61 L373.75,508.36 L377.13,510.05 L380.59,511.66 L384.14,513.2 L387.78,514.66 L391.49,516.04 L395.29,517.34 L399.18,518.54 L403.15,519.66 L407.21,520.68 L411.35,521.61 L415.57,522.43 L419.88,523.14 L424.26,523.75 L428.73,524.25 L433.28,524.63 L437.9,524.89 L442.61,525.03 L447.39,525.04 M344.25,481.44 L346.75,483.71 L349.31,485.95 L351.95,488.14 L354.67,490.27 L357.46,492.36 L360.33,494.39 L363.27,496.37 L366.3,498.29 L369.4,500.14 L372.59,501.94 L375.85,503.66 L379.2,505.32 L382.63,506.9 L386.14,508.41 L389.73,509.85 L393.41,511.2 L397.16,512.47 L401,513.65 L404.92,514.74 L408.93,515.74 L413.01,516.64 L417.17,517.44 L421.42,518.13 L425.74,518.72 L430.15,519.2 L434.63,519.56 L439.18,519.81 L443.82,519.93 L448.52,519.93 L453.3,519.79 M360.02,473.44 L362.73,475.45 L365.51,477.41 L368.36,479.31 L371.28,481.16 L374.27,482.95 L377.33,484.68 L380.47,486.35 L383.67,487.94 L386.95,489.47 L390.3,490.93 L393.73,492.31 L397.23,493.62 L400.8,494.85 L404.45,495.99 L408.17,497.05 L411.96,498.01 L415.83,498.89 L419.77,499.67 L423.78,500.36 L427.86,500.94 L432.02,501.42 L436.24,501.79 L440.54,502.04 L444.9,502.19 L449.33,502.21 L453.82,502.11 L458.38,501.89 L463,501.54 L467.68,501.06 L472.42,500.43 M364.43,470.82 L367.21,472.75 L370.04,474.62 L372.95,476.44 L375.92,478.2 L378.96,479.9 L382.08,481.54 L385.26,483.11 L388.51,484.61 L391.83,486.04 L395.23,487.4 L398.69,488.68 L402.23,489.88 L405.83,491 L409.51,492.04 L413.26,492.98 L417.08,493.84 L420.97,494.6 L424.94,495.26 L428.97,495.83 L433.07,496.29 L437.23,496.64 L441.47,496.88 L445.77,497.01 L450.13,497.03 L454.56,496.92 L459.05,496.69 L463.6,496.33 L468.21,495.84 L472.87,495.22 L477.59,494.46" stroke-width="1.45" stroke-linecap="butt"/>
<path d="M106.62,364.7 L107.91,369.67 L109.32,374.49 L110.75,378.94 L111.95,382.39 C114.81,379.73 116.27,383.72 113.48,386.45 M113.48,386.45 L115.41,391.2 L117.44,395.79 L119.45,400.02 L121.1,403.28 C123.58,400.27 125.55,404.03 123.15,407.1 M123.15,407.1 L125.69,411.56 L128.31,415.84 L130.86,419.77 L132.92,422.78 C134.99,419.47 137.43,422.94 135.45,426.3 M135.45,426.3 L138.57,430.38 L141.73,434.28 L144.77,437.84 L147.21,440.55 C148.82,437 151.71,440.11 150.19,443.7 M150.19,443.7 L153.81,447.34 L157.46,450.79 L160.94,453.91 L163.72,456.28 C164.85,452.55 168.12,455.25 167.09,459.01 M167.09,459.01 L171.16,462.14 L175.23,465.08 L179.1,467.71 L182.16,469.7 C182.79,465.85 186.39,468.1 185.86,471.96 M185.86,471.96 L190.31,474.53 L194.73,476.9 L198.91,479 L202.21,480.56 C202.32,476.66 206.19,478.42 206.18,482.32 M206.18,482.32 L210.92,484.28 L215.62,486.05 L220.04,487.58 L223.52,488.69 C223.12,484.81 227.18,486.04 227.68,489.91 M227.68,489.91 L232.64,491.22 L237.53,492.36 L242.12,493.29 L245.71,493.93 C244.8,490.14 248.99,490.83 250,494.59 M250,494.59 L255.09,495.24 L260.09,495.72 L264.76,496.04 L268.4,496.2 C267,492.56 271.24,492.69 272.74,496.29 M272.74,496.29 L277.87,496.26 L282.89,496.08 L287.56,495.78 L291.2,495.46 C289.33,492.04 293.55,491.61 295.51,494.98 M295.51,494.98 L300.59,494.27 L305.54,493.43 L310.13,492.52 L313.69,491.72 C311.39,488.57 315.52,487.59 317.9,490.67 M317.9,490.67 L322.85,489.3 L327.64,487.81 L332.07,486.3 L335.5,485.04 C332.8,482.23 336.76,480.71 339.53,483.45 M339.53,483.45 L344.25,481.44 L348.81,479.33 L353,477.25 L356.23,475.55 C353.18,473.11 356.91,471.08 360.02,473.44 M360.02,473.44 L364.43,470.82 L368.67,468.13 L372.55,465.51 L375.53,463.4 C372.19,461.39 375.62,458.89 379.01,460.81 M58.18,478.16 L62.45,483.96 L65.89,488.41 L70.09,493.59 L75.23,499.59 C75.34,503.79 80.67,509.5 80.43,505.31 M80.43,505.31 L85.43,510.49 L89.42,514.45 L94.27,519.03 L100.16,524.3 C100.82,528.45 106.85,533.41 106.07,529.28 M106.07,529.28 L111.7,533.76 L116.18,537.16 L121.59,541.06 L128.13,545.51 C129.33,549.53 135.96,553.65 134.64,549.66 M134.64,549.66 L140.82,553.36 L145.71,556.14 L151.59,559.29 L158.65,562.84 C160.38,566.67 167.49,569.87 165.66,566.1 M165.66,566.1 L172.27,568.95 L177.48,571.05 L183.72,573.41 L191.19,575.99 C193.41,579.56 200.88,581.8 198.57,578.3 M198.57,578.3 L205.49,580.26 L210.94,581.65 L217.44,583.16 L225.18,584.74 C227.85,587.98 235.56,589.22 232.8,586.05 M232.8,586.05 L239.92,587.08 L245.5,587.74 L252.15,588.38 L260.03,588.92 C263.1,591.79 270.91,592 267.75,589.22 M267.75,589.22 L274.95,589.3 L280.57,589.22 L287.24,588.98 L295.13,588.47 C298.55,590.91 306.31,590.09 302.82,587.75 M302.82,587.75 L309.97,586.88 L315.53,586.06 L322.11,584.94 L329.86,583.4 C333.57,585.36 341.16,583.52 337.39,581.67 M337.39,581.67 L344.36,579.86 L349.76,578.32 L356.14,576.34 L363.62,573.79 C367.56,575.24 374.83,572.42 370.85,571.08 M370.85,571.08 L377.52,568.37 L382.68,566.13 L388.73,563.33 L395.81,559.81 C399.91,560.73 406.75,556.97 402.63,556.17 M402.63,556.17 L408.88,552.6 L413.69,549.7 L419.33,546.12 L425.88,541.71 C430.06,542.08 436.35,537.45 432.16,537.2 M432.16,537.2 L437.89,532.84 L442.27,529.33 L447.39,525.04 L453.3,519.79 C457.49,519.61 463.12,514.2 458.93,514.5 M458.93,514.5 L464.03,509.42 L467.92,505.36 L472.42,500.43 L477.59,494.46 C481.72,493.72 486.58,487.61 482.47,488.47 M482.47,488.47 L486.86,482.76 L490.17,478.22 L493.99,472.74 L498.32,466.14 C502.32,464.86 506.33,458.17 502.37,459.55" stroke-width="1.1"/>
<clipPath id="hs"><path d="M106.62,364.7 L104.6,366.23 L102.6,367.8 L100.62,369.42 L98.66,371.08 L96.71,372.79 L94.79,374.55 L92.89,376.36 L91.01,378.21 L89.15,380.11 L87.32,382.06 L85.52,384.07 L83.74,386.12 L81.98,388.22 L80.26,390.38 L78.56,392.58 L76.9,394.84 L75.27,397.15 L73.67,399.51 L72.1,401.93 L70.57,404.4 L69.08,406.92 L67.62,409.5 L66.2,412.13 L64.83,414.81 L63.49,417.55 L62.2,420.35 L60.95,423.19 L59.75,426.1 L58.6,429.06 L57.49,432.07 L56.44,435.14 L55.43,438.26 L54.48,441.43 L53.59,444.67 L52.75,447.95 L51.97,451.29 L51.25,454.68 L50.6,458.13 L50,461.63 L49.48,465.18 L53.78,471.81 L54.21,468.24 L54.69,464.73 L55.25,461.26 L55.87,457.85 L56.55,454.49 L57.28,451.18 L58.08,447.92 L58.94,444.72 L59.85,441.57 L60.81,438.47 L61.82,435.43 L62.89,432.43 L64,429.5 L65.17,426.61 L66.37,423.78 L67.63,421 L68.92,418.28 L70.26,415.61 L71.64,412.99 L73.06,410.42 L74.52,407.91 L76.01,405.45 L77.54,403.04 L79.1,400.68 L80.7,398.37 L82.33,396.12 L83.99,393.91 L85.68,391.76 L87.39,389.66 L89.14,387.6 L90.91,385.6 L92.71,383.64 L94.53,381.73 L96.38,379.87 L98.25,378.05 L100.14,376.29 L102.05,374.56 L103.99,372.89 L105.94,371.26 L107.91,369.67 Z M113.48,386.45 L111.68,388.23 L109.9,390.05 L108.15,391.92 L106.43,393.82 L104.73,395.78 L103.05,397.77 L101.41,399.81 L99.79,401.9 L98.2,404.03 L96.64,406.21 L95.11,408.43 L93.62,410.7 L92.16,413.01 L90.74,415.38 L89.35,417.79 L87.99,420.24 L86.68,422.75 L85.41,425.3 L84.17,427.9 L82.98,430.55 L81.83,433.25 L80.73,436 L79.67,438.79 L78.66,441.64 L77.7,444.53 L76.79,447.47 L75.93,450.46 L75.12,453.49 L74.36,456.58 L73.67,459.71 L73.02,462.89 L72.44,466.12 L71.92,469.39 L71.46,472.71 L71.06,476.08 L70.73,479.49 L70.47,482.95 L70.27,486.45 L70.14,490 L70.09,493.59 L75.23,499.59 L75.18,496 L75.2,492.45 L75.29,488.94 L75.46,485.48 L75.69,482.06 L75.98,478.68 L76.34,475.35 L76.77,472.06 L77.25,468.81 L77.8,465.62 L78.4,462.46 L79.07,459.36 L79.78,456.3 L80.55,453.29 L81.38,450.32 L82.25,447.4 L83.18,444.53 L84.15,441.71 L85.18,438.93 L86.24,436.2 L87.36,433.51 L88.51,430.88 L89.71,428.29 L90.95,425.74 L92.23,423.25 L93.54,420.8 L94.9,418.39 L96.29,416.03 L97.71,413.72 L99.17,411.45 L100.66,409.23 L102.19,407.06 L103.74,404.92 L105.33,402.83 L106.94,400.79 L108.59,398.79 L110.25,396.83 L111.95,394.91 L113.67,393.04 L115.41,391.2 Z M123.15,407.1 L121.6,409.1 L120.08,411.14 L118.59,413.22 L117.13,415.34 L115.7,417.5 L114.31,419.7 L112.94,421.94 L111.61,424.22 L110.32,426.55 L109.06,428.91 L107.84,431.31 L106.66,433.76 L105.52,436.25 L104.42,438.78 L103.36,441.35 L102.34,443.96 L101.37,446.62 L100.45,449.32 L99.57,452.06 L98.73,454.84 L97.95,457.67 L97.22,460.54 L96.54,463.45 L95.91,466.4 L95.34,469.39 L94.82,472.43 L94.37,475.5 L93.96,478.62 L93.62,481.78 L93.35,484.97 L93.13,488.21 L92.98,491.49 L92.89,494.8 L92.88,498.15 L92.93,501.54 L93.05,504.97 L93.24,508.43 L93.51,511.93 L93.85,515.46 L94.27,519.03 L100.16,524.3 L99.63,520.75 L99.19,517.23 L98.82,513.74 L98.52,510.28 L98.3,506.86 L98.15,503.47 L98.06,500.12 L98.05,496.81 L98.1,493.53 L98.22,490.28 L98.41,487.08 L98.65,483.91 L98.96,480.79 L99.33,477.7 L99.75,474.65 L100.24,471.64 L100.77,468.67 L101.37,465.74 L102.01,462.86 L102.71,460.01 L103.46,457.2 L104.26,454.44 L105.1,451.71 L106,449.03 L106.93,446.38 L107.92,443.78 L108.94,441.22 L110.01,438.7 L111.12,436.22 L112.26,433.78 L113.45,431.38 L114.67,429.02 L115.93,426.7 L117.23,424.42 L118.56,422.18 L119.92,419.98 L121.32,417.82 L122.75,415.69 L124.2,413.61 L125.69,411.56 Z M135.45,426.3 L134.18,428.49 L132.95,430.71 L131.75,432.97 L130.58,435.26 L129.45,437.59 L128.35,439.96 L127.3,442.36 L126.28,444.79 L125.31,447.27 L124.37,449.77 L123.48,452.32 L122.63,454.9 L121.83,457.52 L121.07,460.17 L120.36,462.86 L119.7,465.58 L119.08,468.35 L118.52,471.14 L118.01,473.98 L117.55,476.85 L117.15,479.75 L116.8,482.69 L116.51,485.66 L116.28,488.67 L116.11,491.71 L116,494.79 L115.95,497.9 L115.96,501.04 L116.04,504.22 L116.19,507.42 L116.4,510.66 L116.68,513.93 L117.03,517.22 L117.46,520.55 L117.96,523.9 L118.53,527.28 L119.18,530.69 L119.9,534.12 L120.71,537.58 L121.59,541.06 L128.13,545.51 L127.14,542.05 L126.23,538.62 L125.4,535.21 L124.65,531.83 L123.98,528.46 L123.38,525.13 L122.86,521.81 L122.41,518.53 L122.03,515.27 L121.72,512.04 L121.48,508.84 L121.31,505.67 L121.2,502.53 L121.16,499.42 L121.18,496.34 L121.26,493.3 L121.4,490.28 L121.6,487.3 L121.86,484.35 L122.18,481.44 L122.55,478.56 L122.98,475.71 L123.45,472.9 L123.98,470.12 L124.57,467.38 L125.2,464.67 L125.87,461.99 L126.6,459.35 L127.37,456.75 L128.19,454.18 L129.05,451.64 L129.95,449.14 L130.89,446.68 L131.87,444.25 L132.9,441.85 L133.96,439.49 L135.06,437.16 L136.19,434.87 L137.36,432.61 L138.57,430.38 Z M150.19,443.7 L149.22,446.04 L148.28,448.41 L147.39,450.81 L146.54,453.23 L145.72,455.69 L144.95,458.18 L144.22,460.7 L143.53,463.25 L142.89,465.83 L142.3,468.44 L141.75,471.08 L141.25,473.75 L140.8,476.45 L140.4,479.18 L140.05,481.94 L139.75,484.73 L139.51,487.54 L139.32,490.39 L139.19,493.27 L139.11,496.17 L139.09,499.1 L139.14,502.06 L139.24,505.05 L139.41,508.06 L139.64,511.1 L139.93,514.16 L140.3,517.25 L140.72,520.37 L141.22,523.5 L141.79,526.66 L142.43,529.84 L143.14,533.04 L143.92,536.26 L144.78,539.5 L145.72,542.76 L146.73,546.04 L147.82,549.33 L149,552.64 L150.25,555.96 L151.59,559.29 L158.65,562.84 L157.21,559.54 L155.86,556.26 L154.59,552.99 L153.4,549.73 L152.29,546.49 L151.26,543.26 L150.3,540.05 L149.42,536.85 L148.62,533.67 L147.89,530.51 L147.22,527.37 L146.63,524.25 L146.11,521.15 L145.66,518.08 L145.27,515.02 L144.95,511.99 L144.7,508.99 L144.5,506 L144.37,503.05 L144.3,500.12 L144.29,497.21 L144.34,494.33 L144.44,491.48 L144.6,488.66 L144.81,485.86 L145.08,483.09 L145.4,480.35 L145.77,477.64 L146.19,474.95 L146.66,472.3 L147.18,469.67 L147.74,467.07 L148.35,464.51 L149.01,461.97 L149.7,459.46 L150.44,456.98 L151.23,454.52 L152.05,452.1 L152.91,449.71 L153.81,447.34 Z M167.09,459.01 L166.43,461.46 L165.82,463.93 L165.25,466.42 L164.73,468.94 L164.24,471.49 L163.81,474.06 L163.41,476.65 L163.07,479.27 L162.78,481.91 L162.53,484.57 L162.33,487.26 L162.19,489.97 L162.1,492.71 L162.06,495.47 L162.08,498.25 L162.15,501.05 L162.28,503.88 L162.47,506.73 L162.72,509.6 L163.03,512.48 L163.4,515.39 L163.83,518.32 L164.33,521.27 L164.89,524.23 L165.52,527.21 L166.22,530.21 L166.98,533.23 L167.82,536.25 L168.73,539.3 L169.71,542.35 L170.76,545.42 L171.88,548.5 L173.09,551.59 L174.37,554.69 L175.72,557.8 L177.16,560.91 L178.68,564.03 L180.28,567.15 L181.96,570.28 L183.72,573.41 L191.19,575.99 L189.33,572.92 L187.56,569.84 L185.87,566.77 L184.26,563.69 L182.73,560.63 L181.28,557.56 L179.91,554.5 L178.62,551.45 L177.4,548.4 L176.26,545.37 L175.19,542.34 L174.19,539.33 L173.27,536.32 L172.41,533.33 L171.62,530.36 L170.91,527.4 L170.26,524.45 L169.67,521.52 L169.15,518.61 L168.69,515.71 L168.3,512.83 L167.97,509.97 L167.69,507.13 L167.48,504.31 L167.32,501.51 L167.22,498.73 L167.18,495.97 L167.18,493.23 L167.25,490.52 L167.36,487.82 L167.53,485.15 L167.75,482.5 L168.01,479.88 L168.33,477.27 L168.69,474.69 L169.09,472.14 L169.55,469.6 L170.04,467.09 L170.58,464.61 L171.16,462.14 Z M185.86,471.96 L185.53,474.47 L185.25,477 L185.02,479.55 L184.83,482.12 L184.69,484.7 L184.59,487.3 L184.54,489.93 L184.55,492.57 L184.6,495.22 L184.71,497.9 L184.87,500.59 L185.09,503.3 L185.36,506.02 L185.69,508.76 L186.07,511.52 L186.51,514.29 L187.01,517.07 L187.58,519.87 L188.2,522.68 L188.89,525.5 L189.64,528.33 L190.46,531.18 L191.34,534.03 L192.29,536.9 L193.3,539.77 L194.39,542.65 L195.55,545.54 L196.77,548.43 L198.07,551.33 L199.45,554.23 L200.9,557.13 L202.42,560.04 L204.02,562.94 L205.7,565.84 L207.45,568.74 L209.29,571.64 L211.2,574.53 L213.2,577.42 L215.28,580.29 L217.44,583.16 L225.18,584.74 L222.94,581.93 L220.77,579.12 L218.69,576.3 L216.69,573.46 L214.77,570.62 L212.93,567.77 L211.17,564.92 L209.48,562.07 L207.87,559.21 L206.34,556.35 L204.88,553.49 L203.49,550.64 L202.18,547.78 L200.94,544.93 L199.77,542.08 L198.67,539.24 L197.63,536.41 L196.67,533.58 L195.77,530.76 L194.93,527.95 L194.16,525.15 L193.45,522.36 L192.81,519.58 L192.22,516.81 L191.7,514.06 L191.23,511.31 L190.82,508.58 L190.47,505.87 L190.17,503.17 L189.93,500.48 L189.75,497.81 L189.61,495.16 L189.53,492.52 L189.5,489.9 L189.51,487.29 L189.58,484.71 L189.69,482.13 L189.85,479.58 L190.06,477.04 L190.31,474.53 Z M206.18,482.32 L206.18,484.85 L206.24,487.4 L206.34,489.95 L206.49,492.52 L206.69,495.1 L206.94,497.7 L207.24,500.3 L207.59,502.92 L208,505.54 L208.46,508.18 L208.97,510.83 L209.54,513.48 L210.17,516.15 L210.86,518.82 L211.6,521.5 L212.41,524.19 L213.27,526.88 L214.2,529.58 L215.19,532.28 L216.24,534.99 L217.36,537.7 L218.54,540.41 L219.79,543.13 L221.11,545.84 L222.5,548.56 L223.96,551.27 L225.48,553.98 L227.08,556.68 L228.75,559.38 L230.5,562.08 L232.32,564.76 L234.21,567.44 L236.18,570.11 L238.22,572.76 L240.34,575.41 L242.55,578.04 L244.83,580.65 L247.19,583.25 L249.63,585.83 L252.15,588.38 L260.03,588.92 L257.44,586.44 L254.92,583.94 L252.48,581.41 L250.13,578.87 L247.85,576.3 L245.65,573.72 L243.52,571.13 L241.48,568.52 L239.51,565.9 L237.61,563.27 L235.78,560.63 L234.03,557.98 L232.36,555.32 L230.75,552.66 L229.21,549.99 L227.75,547.32 L226.35,544.65 L225.02,541.97 L223.75,539.3 L222.55,536.62 L221.42,533.95 L220.35,531.28 L219.34,528.61 L218.4,525.94 L217.51,523.28 L216.69,520.62 L215.93,517.97 L215.22,515.32 L214.57,512.69 L213.98,510.06 L213.44,507.43 L212.95,504.82 L212.52,502.22 L212.15,499.62 L211.82,497.04 L211.54,494.46 L211.32,491.9 L211.14,489.35 L211.01,486.8 L210.92,484.28 Z M227.68,489.91 L228.02,492.42 L228.41,494.93 L228.85,497.45 L229.34,499.98 L229.88,502.51 L230.47,505.05 L231.11,507.59 L231.8,510.14 L232.55,512.69 L233.36,515.24 L234.22,517.8 L235.13,520.35 L236.1,522.91 L237.14,525.47 L238.23,528.03 L239.38,530.59 L240.59,533.14 L241.87,535.7 L243.2,538.25 L244.61,540.79 L246.07,543.33 L247.6,545.86 L249.2,548.39 L250.87,550.9 L252.6,553.41 L254.4,555.91 L256.27,558.39 L258.21,560.86 L260.23,563.32 L262.31,565.76 L264.47,568.18 L266.7,570.59 L269,572.97 L271.38,575.33 L273.83,577.67 L276.36,579.99 L278.96,582.28 L281.65,584.54 L284.4,586.78 L287.24,588.98 L295.13,588.47 L292.23,586.36 L289.4,584.21 L286.65,582.02 L283.98,579.81 L281.39,577.57 L278.87,575.31 L276.42,573.02 L274.04,570.7 L271.74,568.36 L269.52,566 L267.36,563.63 L265.28,561.23 L263.26,558.82 L261.32,556.39 L259.44,553.95 L257.64,551.5 L255.9,549.03 L254.22,546.56 L252.62,544.07 L251.08,541.58 L249.6,539.07 L248.19,536.57 L246.84,534.05 L245.55,531.53 L244.32,529.01 L243.15,526.49 L242.05,523.96 L241,521.43 L240.01,518.9 L239.07,516.37 L238.19,513.84 L237.37,511.32 L236.6,508.79 L235.88,506.27 L235.22,503.75 L234.6,501.24 L234.04,498.72 L233.53,496.22 L233.06,493.72 L232.64,491.22 Z M250,494.59 L250.67,497.03 L251.39,499.48 L252.15,501.92 L252.97,504.36 L253.84,506.8 L254.76,509.23 L255.73,511.67 L256.75,514.1 L257.83,516.53 L258.97,518.96 L260.15,521.38 L261.4,523.79 L262.7,526.2 L264.06,528.6 L265.48,530.99 L266.96,533.38 L268.5,535.75 L270.1,538.11 L271.76,540.46 L273.49,542.8 L275.28,545.12 L277.13,547.43 L279.05,549.72 L281.03,552 L283.08,554.25 L285.19,556.49 L287.37,558.71 L289.62,560.9 L291.94,563.07 L294.33,565.21 L296.79,567.33 L299.32,569.42 L301.91,571.48 L304.58,573.51 L307.32,575.51 L310.13,577.47 L313.02,579.39 L315.98,581.28 L319,583.13 L322.11,584.94 L329.86,583.4 L326.7,581.68 L323.62,579.93 L320.61,578.13 L317.67,576.29 L314.8,574.41 L312,572.49 L309.27,570.54 L306.61,568.56 L304.03,566.55 L301.51,564.51 L299.06,562.43 L296.67,560.33 L294.36,558.21 L292.11,556.06 L289.93,553.89 L287.82,551.69 L285.77,549.48 L283.78,547.24 L281.86,544.99 L280.01,542.72 L278.21,540.44 L276.48,538.14 L274.81,535.82 L273.2,533.5 L271.65,531.16 L270.16,528.81 L268.73,526.45 L267.36,524.08 L266.04,521.71 L264.78,519.32 L263.58,516.93 L262.43,514.54 L261.33,512.14 L260.29,509.73 L259.29,507.32 L258.35,504.91 L257.47,502.49 L256.63,500.08 L255.84,497.66 L255.09,495.24 Z M272.74,496.29 L273.73,498.62 L274.76,500.95 L275.84,503.27 L276.97,505.58 L278.16,507.88 L279.39,510.18 L280.67,512.46 L282.01,514.74 L283.4,517.01 L284.84,519.26 L286.34,521.5 L287.89,523.73 L289.5,525.95 L291.17,528.15 L292.89,530.33 L294.67,532.5 L296.51,534.65 L298.41,536.78 L300.36,538.89 L302.38,540.98 L304.46,543.05 L306.6,545.09 L308.8,547.11 L311.07,549.1 L313.4,551.07 L315.79,553.01 L318.25,554.92 L320.77,556.79 L323.35,558.64 L326,560.45 L328.71,562.22 L331.5,563.96 L334.34,565.66 L337.26,567.32 L340.24,568.94 L343.28,570.51 L346.39,572.04 L349.57,573.52 L352.82,574.96 L356.14,576.34 L363.62,573.79 L360.26,572.51 L356.97,571.17 L353.75,569.78 L350.59,568.35 L347.5,566.86 L344.48,565.33 L341.51,563.76 L338.62,562.15 L335.79,560.49 L333.02,558.8 L330.32,557.07 L327.68,555.3 L325.1,553.5 L322.59,551.67 L320.14,549.8 L317.76,547.91 L315.44,545.98 L313.17,544.03 L310.97,542.05 L308.83,540.04 L306.75,538.02 L304.73,535.96 L302.77,533.89 L300.87,531.8 L299.03,529.68 L297.24,527.55 L295.51,525.4 L293.84,523.24 L292.22,521.05 L290.65,518.86 L289.15,516.65 L287.69,514.42 L286.29,512.19 L284.93,509.94 L283.63,507.68 L282.38,505.42 L281.18,503.14 L280.03,500.85 L278.93,498.56 L277.87,496.26 Z M295.51,494.98 L296.79,497.16 L298.12,499.33 L299.5,501.48 L300.93,503.62 L302.4,505.75 L303.93,507.86 L305.5,509.96 L307.13,512.04 L308.8,514.1 L310.53,516.15 L312.31,518.17 L314.15,520.18 L316.03,522.16 L317.97,524.12 L319.97,526.06 L322.02,527.97 L324.13,529.86 L326.29,531.72 L328.51,533.56 L330.78,535.36 L333.12,537.14 L335.51,538.88 L337.96,540.59 L340.47,542.27 L343.03,543.91 L345.66,545.52 L348.35,547.09 L351.09,548.61 L353.9,550.1 L356.76,551.55 L359.69,552.95 L362.67,554.3 L365.72,555.61 L368.83,556.87 L371.99,558.08 L375.22,559.24 L378.51,560.35 L381.86,561.4 L385.26,562.39 L388.73,563.33 L395.81,559.81 L392.32,558.98 L388.88,558.09 L385.5,557.14 L382.18,556.13 L378.92,555.07 L375.72,553.95 L372.58,552.79 L369.5,551.57 L366.47,550.3 L363.5,548.99 L360.6,547.63 L357.75,546.23 L354.96,544.78 L352.23,543.29 L349.56,541.77 L346.94,540.2 L344.38,538.6 L341.88,536.96 L339.44,535.29 L337.06,533.59 L334.73,531.85 L332.45,530.08 L330.24,528.29 L328.08,526.46 L325.97,524.61 L323.92,522.73 L321.92,520.83 L319.97,518.9 L318.08,516.95 L316.24,514.98 L314.45,512.99 L312.72,510.98 L311.03,508.95 L309.39,506.9 L307.81,504.83 L306.27,502.75 L304.78,500.65 L303.34,498.54 L301.94,496.41 L300.59,494.27 Z M317.9,490.67 L319.46,492.66 L321.07,494.64 L322.72,496.59 L324.42,498.53 L326.16,500.44 L327.95,502.33 L329.79,504.21 L331.67,506.05 L333.61,507.88 L335.59,509.68 L337.62,511.45 L339.7,513.19 L341.83,514.91 L344.02,516.6 L346.25,518.26 L348.54,519.88 L350.87,521.48 L353.26,523.04 L355.7,524.56 L358.2,526.05 L360.74,527.5 L363.35,528.92 L366,530.29 L368.71,531.62 L371.47,532.91 L374.28,534.15 L377.15,535.35 L380.08,536.51 L383.05,537.61 L386.08,538.67 L389.17,539.67 L392.31,540.62 L395.5,541.51 L398.75,542.35 L402.04,543.14 L405.4,543.86 L408.8,544.52 L412.26,545.12 L415.77,545.66 L419.33,546.12 L425.88,541.71 L422.31,541.34 L418.78,540.91 L415.31,540.42 L411.89,539.86 L408.52,539.23 L405.19,538.55 L401.93,537.81 L398.71,537.01 L395.54,536.15 L392.43,535.24 L389.37,534.28 L386.36,533.26 L383.4,532.2 L380.5,531.08 L377.65,529.92 L374.85,528.72 L372.1,527.46 L369.41,526.17 L366.77,524.84 L364.18,523.46 L361.64,522.05 L359.16,520.6 L356.72,519.11 L354.34,517.58 L352.01,516.03 L349.72,514.44 L347.49,512.81 L345.31,511.16 L343.18,509.48 L341.09,507.77 L339.06,506.03 L337.07,504.26 L335.13,502.47 L333.24,500.66 L331.39,498.82 L329.59,496.96 L327.84,495.07 L326.13,493.17 L324.47,491.24 L322.85,489.3 Z M339.53,483.45 L341.34,485.22 L343.19,486.96 L345.09,488.68 L347.03,490.38 L349.01,492.04 L351.03,493.68 L353.1,495.3 L355.21,496.88 L357.37,498.43 L359.57,499.95 L361.82,501.44 L364.11,502.9 L366.45,504.32 L368.84,505.7 L371.27,507.05 L373.75,508.36 L376.28,509.64 L378.85,510.87 L381.47,512.06 L384.14,513.2 L386.86,514.31 L389.62,515.36 L392.44,516.37 L395.29,517.34 L398.2,518.25 L401.16,519.11 L404.16,519.92 L407.21,520.68 L410.31,521.38 L413.45,522.03 L416.64,522.62 L419.88,523.14 L423.16,523.61 L426.49,524.02 L429.86,524.36 L433.28,524.63 L436.74,524.84 L440.25,524.98 L443.79,525.04 L447.39,525.04 L453.3,519.79 L449.71,519.91 L446.16,519.94 L442.65,519.91 L439.18,519.81 L435.76,519.63 L432.38,519.39 L429.04,519.09 L425.74,518.72 L422.49,518.29 L419.29,517.8 L416.13,517.25 L413.01,516.64 L409.94,515.97 L406.91,515.25 L403.93,514.47 L401,513.65 L398.11,512.77 L395.27,511.84 L392.48,510.87 L389.73,509.85 L387.03,508.78 L384.37,507.67 L381.76,506.51 L379.2,505.32 L376.68,504.08 L374.21,502.81 L371.78,501.49 L369.4,500.14 L367.07,498.76 L364.78,497.33 L362.53,495.88 L360.33,494.39 L358.17,492.87 L356.05,491.32 L353.98,489.74 L351.95,488.14 L349.96,486.5 L348.02,484.84 L346.12,483.15 L344.25,481.44 Z M360.02,473.44 L362.05,474.95 L364.11,476.44 L366.22,477.89 L368.36,479.31 L370.55,480.71 L372.77,482.07 L375.03,483.39 L377.33,484.68 L379.68,485.94 L382.06,487.15 L384.49,488.33 L386.95,489.47 L389.46,490.57 L392.01,491.63 L394.6,492.65 L397.23,493.62 L399.9,494.55 L402.61,495.43 L405.37,496.26 L408.17,497.05 L411,497.78 L413.88,498.46 L416.8,499.1 L419.77,499.67 L422.77,500.2 L425.81,500.66 L428.89,501.07 L432.02,501.42 L435.18,501.7 L438.38,501.93 L441.62,502.09 L444.9,502.19 L448.21,502.22 L451.57,502.18 L454.96,502.07 L458.38,501.89 L461.84,501.64 L465.33,501.31 L468.86,500.91 L472.42,500.43 L477.59,494.46 L474.04,495.04 L470.53,495.55 L467.05,495.98 L463.6,496.33 L460.18,496.61 L456.8,496.82 L453.45,496.96 L450.13,497.03 L446.85,497.03 L443.61,496.96 L440.4,496.83 L437.23,496.64 L434.1,496.39 L431.01,496.07 L427.95,495.7 L424.94,495.26 L421.96,494.77 L419.02,494.23 L416.12,493.63 L413.26,492.98 L410.44,492.28 L407.66,491.53 L404.93,490.73 L402.23,489.88 L399.57,488.99 L396.95,488.05 L394.37,487.07 L391.83,486.04 L389.33,484.98 L386.87,483.87 L384.46,482.72 L382.08,481.54 L379.74,480.32 L377.43,479.06 L375.17,477.77 L372.95,476.44 L370.76,475.08 L368.62,473.69 L366.51,472.27 L364.43,470.82 Z"/></clipPath>
<g clip-path="url(#hs)"><path d="M-76.55,489.68 L215.05,277.28 M-73.01,494.54 L218.59,282.14 M-69.47,499.4 L222.13,287 M-65.93,504.26 L225.67,291.86 M-62.39,509.12 L229.21,296.72 M-58.85,513.98 L232.75,301.58 M-55.31,518.84 L236.29,306.44 M-51.77,523.7 L239.83,311.3 M-48.23,528.56 L243.37,316.16 M-44.69,533.42 L246.91,321.02 M-41.15,538.28 L250.45,325.88 M-37.61,543.14 L253.99,330.74 M-34.07,548 L257.53,335.6 M-30.53,552.86 L261.07,340.46 M-26.99,557.72 L264.61,345.32 M-23.45,562.58 L268.15,350.18 M-19.91,567.44 L271.69,355.04 M-16.37,572.3 L275.23,359.9 M-12.83,577.16 L278.77,364.76 M-9.29,582.02 L282.31,369.62 M-5.75,586.88 L285.85,374.48 M-2.21,591.74 L289.39,379.34 M1.33,596.6 L292.93,384.2 M4.87,601.46 L296.47,389.06 M8.41,606.32 L300.01,393.92 M11.95,611.18 L303.55,398.78 M15.49,616.04 L307.09,403.64 M19.03,620.9 L310.63,408.5 M22.57,625.76 L314.17,413.36 M26.11,630.62 L317.71,418.22 M29.65,635.48 L321.25,423.08 M33.19,640.34 L324.79,427.94 M36.73,645.2 L328.33,432.8 M40.27,650.06 L331.87,437.66 M43.81,654.92 L335.41,442.52 M47.35,659.78 L338.95,447.38 M50.89,664.64 L342.49,452.24 M54.43,669.5 L346.03,457.1 M57.97,674.36 L349.57,461.96 M61.51,679.22 L353.11,466.82 M65.05,684.08 L356.65,471.68 M68.59,688.94 L360.19,476.54 M72.13,693.8 L363.73,481.4 M75.67,698.66 L367.27,486.26 M79.21,703.52 L370.81,491.12 M82.75,708.38 L374.35,495.98 M86.29,713.24 L377.89,500.84 M89.83,718.1 L381.43,505.7 M93.37,722.96 L384.97,510.56" stroke-width="1.3" stroke-linecap="butt"/></g>
</g>
<path d="M161.93,405.94 Q147,408.6 131.79,408.12 A139 139 0 0 0 63.17,492.22 A270 270 0 0 0 238.53,591.43 Q252,531 241.6,484.6 L240.7,481.2 A21.3 21.3 0 0 0 259.2,462.1"/>
<path d="M238.53,591.43 L236.36,595.07"/>
<path d="M63.17,492.22 L60.57,495.22"/>
<path d="M132.47,412.13 A167 167 0 0 0 239.31,487.11"/>
<path d="M132.74,407.56 A164.4 164.4 0 1 1 241.53,484.92"/>
<circle cx="274.2" cy="323.8" r="151.6"/>
<path d="M289.2,185.5 A21.3 21.3 0 1 1 330.36,196.53 M356.34,211.53 A21.3 21.3 0 1 1 386.47,241.66 M401.47,267.64 A21.3 21.3 0 1 1 412.5,308.8 M412.5,338.8 A21.3 21.3 0 1 1 401.47,379.96 M386.47,405.94 A21.3 21.3 0 1 1 356.34,436.07 M330.36,451.07 A21.3 21.3 0 1 1 289.2,462.1 M146.93,379.96 A21.3 21.3 0 1 1 135.9,338.8 M135.9,308.8 A21.3 21.3 0 1 1 146.93,267.64 M161.93,241.66 A21.3 21.3 0 1 1 192.06,211.53 M218.04,196.53 A21.3 21.3 0 1 1 259.2,185.5"/>
<path d="M259.2,184.3 A139.8 139.8 0 0 1 289.2,184.3 M330.96,195.49 A139.8 139.8 0 0 1 356.94,210.49 M387.51,241.06 A139.8 139.8 0 0 1 402.51,267.04 M413.7,308.8 A139.8 139.8 0 0 1 413.7,338.8 M402.51,380.56 A139.8 139.8 0 0 1 387.51,406.54 M356.94,437.11 A139.8 139.8 0 0 1 330.96,452.11 M289.2,463.3 A139.8 139.8 0 0 1 259.2,463.3 M160.89,406.54 A139.8 139.8 0 0 1 145.89,380.56 M134.7,338.8 A139.8 139.8 0 0 1 134.7,308.8 M145.89,267.04 A139.8 139.8 0 0 1 160.89,241.06 M191.46,210.49 A139.8 139.8 0 0 1 217.44,195.49" stroke-width="2.3" stroke="#2a2a2a" stroke-linecap="butt"/>
<circle cx="274.2" cy="171.6" r="5.5"/><circle cx="350.3" cy="191.99" r="5.5"/><circle cx="406.01" cy="247.7" r="5.5"/><circle cx="426.4" cy="323.8" r="5.5"/><circle cx="406.01" cy="399.9" r="5.5"/><circle cx="350.3" cy="455.61" r="5.5"/><circle cx="274.2" cy="476" r="5.5"/><circle cx="142.39" cy="399.9" r="5.5"/><circle cx="122" cy="323.8" r="5.5"/><circle cx="142.39" cy="247.7" r="5.5"/><circle cx="198.1" cy="191.99" r="5.5"/>
</g>
<path d="M107.1,119.3 L129.6,103.5 M121,102.8 L129.8,103.3 L126.8,111.8" fill="none" stroke="#333" stroke-width="2.4" stroke-linecap="round" stroke-linejoin="round"/>
<path d="M107.1,119.3 L129.6,103.5 M121,102.8 L129.8,103.3 L126.8,111.8" fill="none" stroke="#fff" stroke-width="0.9" stroke-linecap="round" stroke-linejoin="round"/>
<g fill="none" stroke="#151515" stroke-width="1.1" stroke-linecap="butt">
<path d="M350,16 L340,16"/>
<path d="M340,16 L277,166.3"/>
<path d="M338,170 L249.1,384"/>
<path d="M228.7,436.1 L210.2,476.4"/>
<path d="M154,392.3 L324,295.3"/>
<path d="M370,269.3 L394.9,255.4"/>
<path d="M198.4,193.49 L224.8,237.4"/>
<path d="M248.8,281.5 L347.8,451.11"/>
<path d="M644.5,2 L644.5,47.5"/>
<path d="M698.4,2 L698.4,47.5"/>
<path d="M622.3,7 L698.4,7"/>
<path d="M586.8,49.8 L640,49.8"/>
<path d="M586,598.4 L640,598.4"/>
<path d="M592.6,49.8 L592.6,83"/>
<path d="M592.6,138 L592.6,598"/>
</g>
<path d="M277,166.3 L278.87,155.37 L283.48,157.31 Z" fill="#151515" stroke="none"/><path d="M338,170 L336.17,180.93 L331.55,179.02 Z" fill="#151515" stroke="none"/><path d="M210.2,476.4 L212.43,465.54 L216.98,467.63 Z" fill="#151515" stroke="none"/><path d="M394.9,255.4 L386.69,262.85 L384.25,258.48 Z" fill="#151515" stroke="none"/><path d="M154,392.3 L162.15,384.78 L164.62,389.12 Z" fill="#151515" stroke="none"/><path d="M198.4,193.49 L206.11,201.46 L201.82,204.03 Z" fill="#151515" stroke="none"/><path d="M347.8,451.11 L340.23,443.01 L344.56,440.51 Z" fill="#151515" stroke="none"/><path d="M644.5,7 L655.3,4.5 L655.3,9.5 Z" fill="#151515" stroke="none"/><path d="M698.4,7 L687.6,9.5 L687.6,4.5 Z" fill="#151515" stroke="none"/><path d="M592.6,49.8 L595.1,60.6 L590.1,60.6 Z" fill="#151515" stroke="none"/><path d="M592.6,598.4 L590.1,587.6 L595.1,587.6 Z" fill="#151515" stroke="none"/>
<g fill="none" stroke="#151515" stroke-width="1" stroke-linecap="round" stroke-linejoin="round">
<path d="M644.6 51.9 L644.6 596.4 Q644.6 598 646.2 598 L652.4 598 Q653.6 598 654.1 597 C658.6 588.99 663.75 587.4 671.75 587.4 C679.75 587.4 684.9 588.99 689.4 597 Q689.9 598 691.1 598 L696.8 598 Q698.4 598 698.4 596.4 L698.4 51.9 Q698.4 50.3 696.8 50.3 L691.1 50.3 Q689.9 50.3 689.4 51.3 C684.9 59.31 679.75 60.9 671.75 60.9 C663.75 60.9 658.6 59.31 654.1 51.3 Q653.6 50.3 652.4 50.3 L646.2 50.3 Q644.6 50.3 644.6 51.9 Z"/>
<path d="M653.6,50.8 L653.6,597.5 M689.9,50.8 L689.9,597.5"/>
<path d="M658.1,60 L658.1,589 M685.5,60 L685.5,589" stroke-width="0.6" stroke="#444"/>
<path d="M671.75,60.9 L671.75,587.4" stroke-width="0.9"/>
<path d="M655.95 579.83 Q655.95 577.14 658.63 576.2 Q671.75 571.8 684.87 576.2 Q687.55 577.14 687.55 579.83 L687.55 578.22 C687.55 582.76 679.57 579.51 671.75 579.51 C663.93 579.51 655.95 582.76 655.95 578.22 Z" fill="#fff" stroke-width="1.15"/>
<path d="M661.15,575.56 L661.15,581.1 M682.35,575.56 L682.35,581.1 M671.75,574 L671.75,581.46" stroke-width="0.8"/>
<path d="M655.95 567.44 Q655.95 563.66 659.73 562.96 Q671.75 559.69 683.77 562.96 Q687.55 563.66 687.55 567.44 L687.55 567.19 C687.55 572.27 679.88 570.58 671.75 570.58 C663.62 570.58 655.95 572.27 655.95 567.19 Z" fill="#fff" stroke-width="1.15"/>
<path d="M661.15,562.56 L661.15,571.41 M682.35,562.56 L682.35,571.41 M671.75,561.33 L671.75,571.82" stroke-width="0.8"/>
<path d="M655.95 550.42 Q655.95 546.22 660.15 545.72 Q671.75 543.41 683.35 545.72 Q687.55 546.22 687.55 550.42 L687.55 552.31 C687.55 557.65 680.11 557.2 671.75 557.2 C663.39 557.2 655.95 557.65 655.95 552.31 Z" fill="#fff" stroke-width="1.15"/>
<path d="M661.15,545.53 L661.15,557.39 M682.35,545.53 L682.35,557.39 M671.75,544.57 L671.75,557.94" stroke-width="0.8"/>
<path d="M655.95 529.3 Q655.95 525.1 660.15 524.77 Q671.75 523.25 683.35 524.77 Q687.55 525.1 687.55 529.3 L687.55 533.6 C687.55 539.1 680.28 539.67 671.75 539.67 C663.22 539.67 655.95 539.1 655.95 533.6 Z" fill="#fff" stroke-width="1.15"/>
<path d="M661.15,524.75 L661.15,539.27 M682.35,524.75 L682.35,539.27 M671.75,524.01 L671.75,540.06" stroke-width="0.8"/>
<path d="M655.95 504.85 Q655.95 500.65 660.15 500.46 Q671.75 499.57 683.35 500.46 Q687.55 500.65 687.55 504.85 L687.55 510.98 C687.55 516.84 680.38 518.3 671.75 518.3 C663.12 518.3 655.95 516.84 655.95 510.98 Z" fill="#fff" stroke-width="1.15"/>
<path d="M661.15,500.56 L661.15,517.35 M682.35,500.56 L682.35,517.35 M671.75,500.01 L671.75,518.48" stroke-width="0.8"/>
<path d="M658.95,501.51 Q654.45,510.24 658.95,515.98 M684.55,501.51 Q689.05,510.24 684.55,515.98" stroke-width="0.8"/>
<path d="M655.95 477.48 Q655.95 473.28 660.15 473.19 Q671.75 472.76 683.35 473.19 Q687.55 473.28 687.55 477.48 L687.55 484.83 C687.55 491.17 680.42 493.5 671.75 493.5 C663.08 493.5 655.95 491.17 655.95 484.83 Z" fill="#fff" stroke-width="1.15"/>
<path d="M661.15,473.4 L661.15,492.02 M682.35,473.4 L682.35,492.02 M671.75,472.97 L671.75,493.56" stroke-width="0.8"/>
<ellipse cx="671.75" cy="487.06" rx="15.4" ry="5.6" stroke-width="0.9"/>
<path d="M655.95 447.66 Q655.95 443.46 660.15 443.43 Q671.75 443.3 683.35 443.43 Q687.55 443.46 687.55 447.66 L687.55 455.57 C687.55 462.46 680.39 465.73 671.75 465.73 C663.11 465.73 655.95 462.46 655.95 455.57 Z" fill="#fff" stroke-width="1.15"/>
<path d="M661.15,443.7 L661.15,463.68 M682.35,443.7 L682.35,463.68 M671.75,443.36 L671.75,465.74" stroke-width="0.8"/>
<path d="M656.25,457.04 Q671.75,463.54 687.25,457.04" stroke-width="0.9"/>
<path d="M655.95 415.89 Q655.95 411.69 660.15 411.69 Q671.75 411.68 683.35 411.69 Q687.55 411.69 687.55 415.89 L687.55 423.68 C687.55 431.14 680.29 435.49 671.75 435.49 C663.21 435.49 655.95 431.14 655.95 423.68 Z" fill="#fff" stroke-width="1.15"/>
<path d="M661.15,411.99 L661.15,432.83 M682.35,411.99 L682.35,432.83 M671.75,411.69 L671.75,435.49" stroke-width="0.8"/>
<path d="M655.95 379.14 Q655.95 377.94 656.95 378.26 Q671.75 381.23 686.55 378.26 Q687.55 377.94 687.55 379.14 L687.55 388.42 C687.55 397.66 680.25 403.33 671.75 403.33 C663.25 403.33 655.95 397.66 655.95 388.42 Z" fill="#fff" stroke-width="1.15"/>
<path d="M661.15,378.99 L661.15,400.35 M682.35,378.99 L682.35,400.35 M671.75,379.68 L671.75,403.33" stroke-width="0.8"/>
<path d="M655.95 344.47 Q655.95 343.27 656.95 343.63 Q671.75 347.58 686.55 343.63 Q687.55 343.27 687.55 344.47 L687.55 354.47 C687.55 363.98 680.25 369.81 671.75 369.81 C663.25 369.81 655.95 363.98 655.95 354.47 Z" fill="#fff" stroke-width="1.15"/>
<path d="M661.15,344.6 L661.15,366.74 M682.35,344.6 L682.35,366.74 M671.75,345.53 L671.75,369.81" stroke-width="0.8"/>
<path d="M655.95 309.47 Q655.95 308.27 656.95 308.66 Q671.75 313.53 686.55 308.66 Q687.55 308.27 687.55 309.47 L687.55 320 C687.55 329.61 680.25 335.5 671.75 335.5 C663.25 335.5 655.95 329.61 655.95 320 Z" fill="#fff" stroke-width="1.15"/>
<path d="M661.15,309.86 L661.15,332.4 M682.35,309.86 L682.35,332.4 M671.75,311 L671.75,335.5" stroke-width="0.8"/>
<path d="M655.95 274.73 Q655.95 273.53 656.95 273.95 Q671.75 279.65 686.55 273.95 Q687.55 273.53 687.55 274.73 L687.55 285.59 C687.55 295.14 680.25 300.99 671.75 300.99 C663.25 300.99 655.95 295.14 655.95 285.59 Z" fill="#fff" stroke-width="1.15"/>
<path d="M661.15,275.35 L661.15,297.91 M682.35,275.35 L682.35,297.91 M671.75,276.69 L671.75,300.99" stroke-width="0.8"/>
<path d="M655.95 240.84 Q655.95 239.64 656.95 240.09 Q671.75 246.53 686.55 240.09 Q687.55 239.64 687.55 240.84 L687.55 251.83 C687.55 261.16 680.25 266.87 671.75 266.87 C663.25 266.87 655.95 261.16 655.95 251.83 Z" fill="#fff" stroke-width="1.15"/>
<path d="M661.15,241.68 L661.15,263.86 M682.35,241.68 L682.35,263.86 M671.75,243.18 L671.75,266.87" stroke-width="0.8"/>
<path d="M655.95 208.39 Q655.95 207.19 656.95 207.67 Q671.75 214.73 686.55 207.67 Q687.55 207.19 687.55 208.39 L687.55 219.31 C687.55 228.25 680.25 233.73 671.75 233.73 C663.25 233.73 655.95 228.25 655.95 219.31 Z" fill="#fff" stroke-width="1.15"/>
<path d="M661.15,209.41 L661.15,230.84 M682.35,209.41 L682.35,230.84 M671.75,211.06 L671.75,233.73" stroke-width="0.8"/>
<path d="M655.95 177.93 Q655.95 176.73 656.95 177.23 Q671.75 184.79 686.55 177.23 Q687.55 176.73 687.55 177.93 L687.55 188.57 C687.55 196.97 680.25 202.13 671.75 202.13 C663.25 202.13 655.95 196.97 655.95 188.57 Z" fill="#fff" stroke-width="1.15"/>
<path d="M661.15,179.1 L661.15,199.41 M682.35,179.1 L682.35,199.41 M671.75,180.86 L671.75,202.13" stroke-width="0.8"/>
<path d="M655.95 149.99 Q655.95 148.79 656.95 149.3 Q671.75 157.24 686.55 149.3 Q687.55 148.79 687.55 149.99 L687.55 160.14 C687.55 167.87 680.25 172.61 671.75 172.61 C663.25 172.61 655.95 167.87 655.95 160.14 Z" fill="#fff" stroke-width="1.15"/>
<path d="M661.15,151.26 L661.15,170.11 M682.35,151.26 L682.35,170.11 M671.75,153.11 L671.75,172.61" stroke-width="0.8"/>
<path d="M655.95 125.04 Q655.95 123.84 656.95 124.35 Q671.75 132.53 686.55 124.35 Q687.55 123.84 687.55 125.04 L687.55 134.52 C687.55 141.43 680.25 145.67 671.75 145.67 C663.25 145.67 655.95 141.43 655.95 134.52 Z" fill="#fff" stroke-width="1.15"/>
<path d="M661.15,126.37 L661.15,143.44 M682.35,126.37 L682.35,143.44 M671.75,128.28 L671.75,145.67" stroke-width="0.8"/>
<path d="M655.95 103.5 Q655.95 102.3 656.95 102.82 Q671.75 111.1 686.55 102.82 Q687.55 102.3 687.55 103.5 L687.55 112.14 C687.55 118.12 680.25 121.78 671.75 121.78 C663.25 121.78 655.95 118.12 655.95 112.14 Z" fill="#fff" stroke-width="1.15"/>
<path d="M661.15,104.87 L661.15,119.86 M682.35,104.87 L682.35,119.86 M671.75,106.8 L671.75,121.78" stroke-width="0.8"/>
<path d="M655.95 85.75 Q655.95 84.55 656.95 85.07 Q671.75 93.31 686.55 85.07 Q687.55 84.55 687.55 85.75 L687.55 93.37 C687.55 98.32 680.25 101.36 671.75 101.36 C663.25 101.36 655.95 98.32 655.95 93.37 Z" fill="#fff" stroke-width="1.15"/>
<path d="M661.15,87.1 L661.15,99.76 M682.35,87.1 L682.35,99.76 M671.75,89.03 L671.75,101.36" stroke-width="0.8"/>
<path d="M655.95 72.09 Q655.95 70.89 656.95 71.41 Q671.75 79.46 686.55 71.41 Q687.55 70.89 687.55 72.09 L687.55 78.55 C687.55 82.38 680.25 84.73 671.75 84.73 C663.25 84.73 655.95 82.38 655.95 78.55 Z" fill="#fff" stroke-width="1.15"/>
<path d="M661.15,73.39 L661.15,83.5 M682.35,73.39 L682.35,83.5 M671.75,75.28 L671.75,84.73" stroke-width="0.8"/>
<path d="M655.95 62.76 Q655.95 61.56 656.95 62.06 Q671.75 69.79 686.55 62.06 Q687.55 61.56 687.55 62.76 L687.55 67.93 C687.55 70.58 680.25 72.2 671.75 72.2 C663.25 72.2 655.95 70.58 655.95 67.93 Z" fill="#fff" stroke-width="1.15"/>
<path d="M661.15,63.97 L661.15,71.34 M682.35,63.97 L682.35,71.34 M671.75,65.77 L671.75,72.2" stroke-width="0.8"/>
<path d="M655.95 57.91 Q655.95 56.71 656.95 57.19 Q671.75 64.47 686.55 57.19 Q687.55 56.71 687.55 57.91 L687.55 61.68 C687.55 63.1 680.25 63.97 671.75 63.97 C663.25 63.97 655.95 63.1 655.95 61.68 Z" fill="#fff" stroke-width="1.15"/>
<path d="M661.15,58.99 L661.15,63.51 M682.35,58.99 L682.35,63.51 M671.75,60.69 L671.75,63.97" stroke-width="0.8"/>
<path d="M655.15,54.4 C659.15,61.38 663.75,62.9 671.75,62.9 C679.75,62.9 684.35,61.38 688.35,54.4" stroke-width="0.9"/>
<path d="M655.15,593.9 C659.15,586.92 663.75,585.4 671.75,585.4 C679.75,585.4 684.35,586.92 688.35,593.9" stroke-width="0.9"/>
<path d="M655.55,56.8 C659.55,63.78 663.75,65.3 671.75,65.3 C679.75,65.3 683.95,63.78 687.95,56.8" stroke-width="0.9"/>
<path d="M655.55,591.5 C659.55,584.52 663.75,583 671.75,583 C679.75,583 683.95,584.52 687.95,591.5" stroke-width="0.9"/>
</g>
<g font-family="'Liberation Sans', Arial, Helvetica, sans-serif" font-size="16" fill="#111" opacity="0.999">
<text x="354.8" y="22.4" textLength="93.2" lengthAdjust="spacingAndGlyphs">MOUNTING</text>
<text x="354.8" y="42.4" textLength="46.5" lengthAdjust="spacingAndGlyphs">HOLE</text>
<text x="182.2" y="256.1" textLength="110.3" lengthAdjust="spacingAndGlyphs">ROTOR BOLT</text>
<text x="206.2" y="276.7" textLength="62.3" lengthAdjust="spacingAndGlyphs">CIRCLE</text>
<text x="328.8" y="280.9" textLength="35.7" lengthAdjust="spacingAndGlyphs">LUG</text>
<text x="333.1" y="301.2" textLength="26.6" lengthAdjust="spacingAndGlyphs">I.D.</text>
<text x="196.4" y="406.7" textLength="78.8" lengthAdjust="spacingAndGlyphs">FAR SIDE</text>
<text x="222.9" y="426.7" textLength="26.2" lengthAdjust="spacingAndGlyphs">I.D.</text>
<text x="556.4" y="14" textLength="61.8" lengthAdjust="spacingAndGlyphs">ROTOR</text>
<text x="556.4" y="34.4" textLength="56.4" lengthAdjust="spacingAndGlyphs">WIDTH</text>
<text x="559.8" y="103.6" textLength="61.2" lengthAdjust="spacingAndGlyphs">ROTOR</text>
<text x="546.3" y="123.9" textLength="88.3" lengthAdjust="spacingAndGlyphs">DIAMETER</text>
</g>
<g font-family="'Liberation Sans', Arial, sans-serif" font-size="7.6" font-weight="bold" fill="#111" stroke="#111" stroke-width="0.45" text-anchor="middle" opacity="0.999">
<text x="274.8" y="166.6">WWE</text>
<text transform="translate(354.72,186) rotate(31)" x="0" y="2.6">8746</text>
<text transform="translate(412.5,243.95) rotate(61)" x="0" y="2.6">SPEC 37</text>
</g>
</svg>
</body></html>
